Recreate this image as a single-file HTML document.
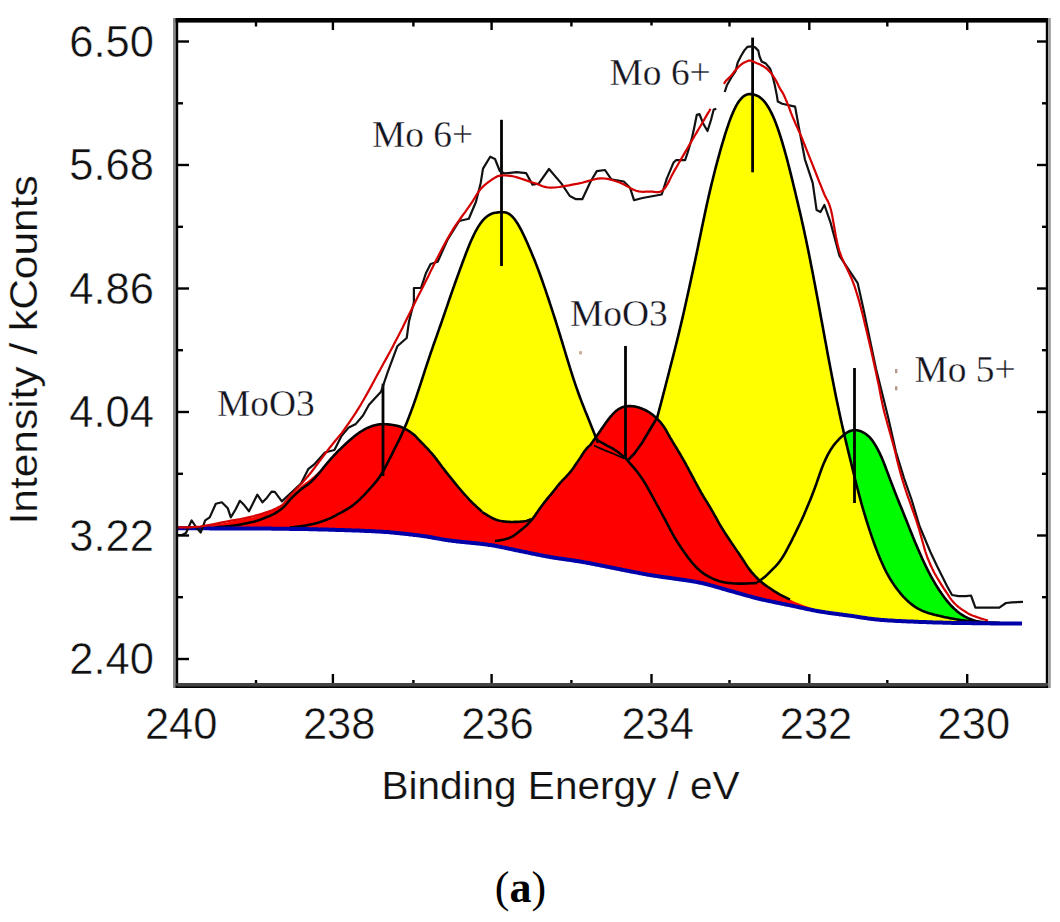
<!DOCTYPE html>
<html><head><meta charset="utf-8"><style>
html,body{margin:0;padding:0;background:#fff;width:1060px;height:922px;overflow:hidden;position:relative}
</style></head><body>
<svg width="1060" height="922" viewBox="0 0 1060 922" style="position:absolute;left:0;top:0">
<rect width="1060" height="922" fill="#fff"/>
<path d="M700,582.5 701,582.6 702,582.8 703,583 704,583.2 705,583.4 706,583.6 707,583.9 708,584.1 709,584.3 710,584.5 711,584.7 712,585 713,585.2 714,585.4 715,585.6 716,585.8 717,586.1 718,586.3 719,586.5 720,586.7 721,586.9 722,587 723,587.2 724,587.4 725,587.5 726,587.7 727,587.8 728,587.9 729,588 730,588.1 731,588.2 732,588.3 733,588.3 734,588.4 735,588.4 736,588.4 737,588.4 738,588.4 739,588.3 740,588.3 741,588.2 742,588 743,587.8 744,587.6 745,587.4 746,587 747,586.6 748,586.2 749,585.7 750,585.3 751,585 752,584.6 753,584.2 754,583.8 755,583.4 756,582.9 757,582.3 758,581.8 759,581.2 760,580.5 761,579.8 762,579.1 763,578.3 764,577.5 765,576.7 766,575.8 767,574.9 768,573.9 769,572.9 770,571.9 771,570.8 772,569.8 773,568.8 774,567.9 775,566.9 776,565.8 777,564.7 778,563.6 779,562.3 780,561 781,559.6 782,558.1 783,556.5 784,554.8 785,553.1 786,551.3 787,549.5 788,547.6 789,545.7 790,543.8 791,541.8 792,539.9 793,537.8 794,535.8 795,533.8 796,531.7 797,529.7 798,527.7 799,525.6 800,523.5 801,521.4 802,519.2 803,516.9 804,514.7 805,512.3 806,510 807,507.6 808,505.2 809,502.8 810,500.4 811,497.9 812,495.4 813,492.8 814,490.2 815,487.5 816,484.8 817,481.9 818,479 819,476.1 820,473.3 821,470.5 822,467.8 823,465.2 824,462.8 825,460.6 826,458.4 827,456.4 828,454.4 829,452.6 830,450.9 831,449.2 832,447.7 833,446.3 834,444.9 835,443.7 836,442.5 837,441.4 838,440.3 839,439.2 840,438.2 841,437.3 842,436.4 843,435.5 844,434.7 845,433.9 846,433.2 847,432.6 848,432 849,431.5 850,431 851,430.7 852,430.4 853,430.2 854,430.1 855,430.1 856,430.2 857,430.3 858,430.5 859,430.7 860,431 861,431.4 862,431.8 863,432.3 864,432.9 865,433.5 866,434.1 867,434.9 868,435.7 869,436.6 870,437.7 871,438.9 872,440.1 873,441.5 874,443 875,444.6 876,446.2 877,448 878,449.9 879,451.8 880,453.9 881,456.1 882,458.3 883,460.7 884,463.2 885,465.8 886,468.5 887,471.1 888,473.8 889,476.5 890,479.1 891,481.7 892,484.3 893,486.9 894,489.5 895,492.1 896,494.7 897,497.2 898,499.7 899,502.2 900,504.7 901,507.1 902,509.6 903,512.1 904,514.5 905,517 906,519.5 907,522 908,524.5 909,527.1 910,529.6 911,532.1 912,534.6 913,537 914,539.5 915,541.9 916,544.3 917,546.6 918,549 919,551.3 920,553.6 921,555.8 922,558.1 923,560.2 924,562.4 925,564.5 926,566.6 927,568.6 928,570.6 929,572.5 930,574.5 931,576.3 932,578.1 933,579.9 934,581.6 935,583.3 936,585 937,586.6 938,588.2 939,589.8 940,591.3 941,592.8 942,594.2 943,595.6 944,597 945,598.3 946,599.6 947,600.8 948,602.1 949,603.2 950,604.4 951,605.5 952,606.5 953,607.5 954,608.5 955,609.4 956,610.3 957,611.2 958,612 959,612.7 960,613.5 961,614.2 962,614.8 963,615.4 964,616 965,616.6 966,617.1 967,617.6 968,618.1 969,618.5 970,618.9 971,619.3 972,619.7 973,620 974,620.4 975,620.7 976,621 977,621.2 978,621.5 979,621.7 980,622 981,622.2 982,622.4 983,622.6 984,622.8 985,622.9 986,623 987,622.8 988,622.7 989,622.7 990,622.6 991,622.6 992,622.5 993,622.5 994,622.5 995,622.6 996,622.6 997,622.7 998,622.7 999,622.8 1000,622.8 L1000,623.4 999,623.4 998,623.4 997,623.4 996,623.4 995,623.4 994,623.4 993,623.4 992,623.4 991,623.4 990,623.3 989,623.3 988,623.3 987,623.3 986,623.3 985,623.3 984,623.3 983,623.3 982,623.3 981,623.3 980,623.2 979,623.2 978,623.2 977,623.2 976,623.2 975,623.2 974,623.2 973,623.2 972,623.2 971,623.1 970,623.1 969,623.1 968,623.1 967,623.1 966,623.1 965,623.1 964,623.1 963,623 962,623 961,623 960,623 959,623 958,623 957,623 956,622.9 955,622.9 954,622.9 953,622.9 952,622.9 951,622.8 950,622.8 949,622.8 948,622.8 947,622.8 946,622.7 945,622.7 944,622.7 943,622.7 942,622.6 941,622.6 940,622.6 939,622.5 938,622.5 937,622.5 936,622.5 935,622.4 934,622.4 933,622.4 932,622.3 931,622.3 930,622.3 929,622.2 928,622.2 927,622.2 926,622.1 925,622.1 924,622 923,622 922,622 921,621.9 920,621.9 919,621.9 918,621.8 917,621.8 916,621.7 915,621.7 914,621.7 913,621.6 912,621.6 911,621.5 910,621.5 909,621.5 908,621.4 907,621.4 906,621.3 905,621.3 904,621.2 903,621.2 902,621.2 901,621.1 900,621.1 899,621 898,621 897,620.9 896,620.9 895,620.8 894,620.7 893,620.7 892,620.6 891,620.6 890,620.5 889,620.4 888,620.4 887,620.3 886,620.2 885,620.2 884,620.1 883,620 882,620 881,619.9 880,619.8 879,619.7 878,619.6 877,619.5 876,619.4 875,619.3 874,619.2 873,619.1 872,619 871,618.8 870,618.7 869,618.6 868,618.4 867,618.3 866,618.1 865,618 864,617.8 863,617.7 862,617.5 861,617.4 860,617.2 859,617 858,616.9 857,616.7 856,616.6 855,616.4 854,616.3 853,616.1 852,616 851,615.8 850,615.7 849,615.6 848,615.4 847,615.3 846,615.2 845,615 844,614.9 843,614.8 842,614.6 841,614.5 840,614.4 839,614.2 838,614.1 837,614 836,613.8 835,613.7 834,613.6 833,613.4 832,613.3 831,613.2 830,613 829,612.9 828,612.7 827,612.6 826,612.4 825,612.3 824,612.1 823,612 822,611.8 821,611.7 820,611.5 819,611.3 818,611.2 817,611 816,610.8 815,610.6 814,610.4 813,610.2 812,610 811,609.8 810,609.6 809,609.4 808,609.2 807,609 806,608.8 805,608.6 804,608.3 803,608.1 802,607.9 801,607.7 800,607.5 799,607.2 798,607 797,606.8 796,606.6 795,606.4 794,606.2 793,605.9 792,605.7 791,605.5 790,605.3 789,605.1 788,604.9 787,604.7 786,604.5 785,604.3 784,604.1 783,603.9 782,603.7 781,603.5 780,603.3 779,603.1 778,602.9 777,602.7 776,602.5 775,602.3 774,602.1 773,601.9 772,601.6 771,601.4 770,601.2 769,601 768,600.8 767,600.6 766,600.4 765,600.1 764,599.9 763,599.7 762,599.5 761,599.2 760,599 759,598.8 758,598.5 757,598.3 756,598 755,597.8 754,597.5 753,597.2 752,597 751,596.7 750,596.4 749,596.1 748,595.9 747,595.6 746,595.3 745,595 744,594.7 743,594.5 742,594.2 741,593.9 740,593.6 739,593.3 738,593 737,592.8 736,592.5 735,592.2 734,591.9 733,591.6 732,591.3 731,591.1 730,590.8 729,590.5 728,590.2 727,590 726,589.7 725,589.4 724,589.1 723,588.8 722,588.5 721,588.2 720,587.9 719,587.6 718,587.4 717,587.1 716,586.8 715,586.5 714,586.2 713,585.9 712,585.6 711,585.4 710,585.1 709,584.8 708,584.6 707,584.3 706,584.1 705,583.8 704,583.6 703,583.3 702,583.1 701,582.9 700,582.7 Z" fill="#00fc00"/>
<path d="M300,526.3 301,526.2 302,526 303,525.9 304,525.7 305,525.6 306,525.4 307,525.2 308,525 309,524.8 310,524.6 311,524.4 312,524.2 313,524 314,523.8 315,523.5 316,523.3 317,523 318,522.7 319,522.4 320,522 321,521.7 322,521.4 323,521 324,520.7 325,520.3 326,519.9 327,519.6 328,519.1 329,518.7 330,518.3 331,517.8 332,517.3 333,516.8 334,516.3 335,515.8 336,515.3 337,514.7 338,514.2 339,513.7 340,513.1 341,512.6 342,512.1 343,511.5 344,511 345,510.4 346,509.8 347,509.2 348,508.6 349,508 350,507.3 351,506.7 352,505.9 353,505.2 354,504.4 355,503.6 356,502.8 357,501.9 358,501 359,500.1 360,499.2 361,498.2 362,497.2 363,496.2 364,495.2 365,494.1 366,493 367,491.9 368,490.8 369,489.7 370,488.6 371,487.5 372,486.4 373,485.2 374,484.1 375,482.9 376,481.7 377,480.4 378,479.1 379,477.7 380,476.2 381,474.6 382,473 383,471.3 384,469.5 385,467.7 386,465.9 387,463.9 388,462 389,460 390,458 391,456.1 392,454.1 393,452.1 394,450.1 395,448.1 396,446.1 397,444.1 398,442.1 399,440.1 400,438 401,435.9 402,433.7 403,431.5 404,429.2 405,426.8 406,424.4 407,422 408,419.5 409,416.9 410,414.3 411,411.6 412,408.9 413,406.2 414,403.4 415,400.5 416,397.6 417,394.7 418,391.7 419,388.7 420,385.6 421,382.6 422,379.5 423,376.4 424,373.3 425,370.2 426,367.2 427,364.1 428,361.1 429,358.1 430,355.1 431,352.2 432,349.3 433,346.4 434,343.5 435,340.7 436,337.9 437,335.1 438,332.2 439,329.4 440,326.5 441,323.7 442,320.8 443,317.9 444,315 445,312.1 446,309.2 447,306.3 448,303.3 449,300.4 450,297.5 451,294.6 452,291.8 453,288.9 454,286.1 455,283.3 456,280.5 457,277.7 458,274.9 459,272.2 460,269.4 461,266.7 462,264 463,261.3 464,258.6 465,256 466,253.3 467,250.8 468,248.2 469,245.7 470,243.3 471,241 472,238.7 473,236.6 474,234.5 475,232.5 476,230.6 477,228.8 478,227.1 479,225.6 480,224.1 481,222.7 482,221.4 483,220.2 484,219.1 485,218.1 486,217.3 487,216.4 488,215.7 489,215.1 490,214.5 491,214 492,213.6 493,213.3 494,213 495,212.8 496,212.7 497,212.5 498,212.4 499,212.3 500,212.3 501,212.2 502,212.2 503,212.2 504,212.3 505,212.4 506,212.6 507,212.9 508,213.4 509,213.9 510,214.6 511,215.4 512,216.3 513,217.3 514,218.5 515,219.8 516,221.2 517,222.7 518,224.3 519,226 520,227.8 521,229.7 522,231.6 523,233.7 524,235.7 525,237.9 526,240.1 527,242.3 528,244.6 529,246.9 530,249.2 531,251.6 532,253.9 533,256.4 534,258.8 535,261.3 536,263.9 537,266.4 538,269.1 539,271.8 540,274.5 541,277.2 542,280 543,282.9 544,285.8 545,288.7 546,291.6 547,294.6 548,297.5 549,300.5 550,303.6 551,306.6 552,309.7 553,312.8 554,315.9 555,319 556,322.2 557,325.3 558,328.5 559,331.8 560,335 561,338.3 562,341.5 563,344.8 564,348.1 565,351.5 566,354.8 567,358.1 568,361.4 569,364.6 570,367.9 571,371.1 572,374.2 573,377.3 574,380.4 575,383.4 576,386.3 577,389.2 578,392 579,394.8 580,397.5 581,400.1 582,402.7 583,405.3 584,407.8 585,410.4 586,412.8 587,415.3 588,417.8 589,420.3 590,422.8 591,425.2 592,427.7 593,430.2 594,432.8 595,435.3 596,437.8 597,440.3 598,442.8 599,445.3 600,447.8 601,450.3 602,452.8 603,455.3 604,457.7 605,460.4 606,464 607,467.5 608,470.7 609,473.8 610,476.7 611,479.5 612,482.1 613,484.6 614,487 615,489.3 616,491.6 617,493.7 618,495.9 619,498 620,500 621,502 622,504 623,506 624,507.9 625,509.7 626,511.6 627,513.4 628,515.2 629,516.9 630,518.6 631,520.3 632,521.9 633,523.6 634,525.1 635,526.7 636,528.2 637,529.7 638,531.2 639,532.6 640,534 641,535.4 642,536.7 643,538.1 644,539.3 645,540.6 646,541.8 647,543 648,544.2 649,545.4 650,546.5 651,547.6 652,548.6 653,549.7 654,550.7 655,551.7 656,552.6 657,553.6 658,554.5 659,555.4 660,556.3 661,557.1 662,557.9 663,558.7 664,559.5 665,560.3 666,561 667,561.8 668,562.5 669,563.2 670,563.8 671,564.5 672,565.1 673,565.8 674,566.4 675,567 676,567.5 677,568.1 678,568.7 679,569.2 680,569.7 681,570.2 682,570.7 683,571.2 684,571.7 685,572.2 686,572.7 687,573.1 688,573.6 689,574 690,574.5 691,574.9 692,575.3 693,575.7 694,576.1 695,576.5 696,576.9 697,577.3 698,577.7 699,578.1 700,578.5 701,578.9 702,579.3 703,579.7 704,580.1 705,580.4 706,580.8 707,581.2 708,581.6 709,582 710,582.4 711,582.8 712,583.2 713,583.6 714,584 715,584.4 716,584.8 717,585.1 718,585.5 719,585.9 720,586.3 L720,587.9 719,587.6 718,587.4 717,587.1 716,586.8 715,586.5 714,586.2 713,585.9 712,585.6 711,585.4 710,585.1 709,584.8 708,584.6 707,584.3 706,584.1 705,583.8 704,583.6 703,583.3 702,583.1 701,582.9 700,582.7 699,582.5 698,582.3 697,582.1 696,581.9 695,581.7 694,581.6 693,581.4 692,581.2 691,581.1 690,580.9 689,580.7 688,580.6 687,580.4 686,580.3 685,580.1 684,580 683,579.8 682,579.7 681,579.5 680,579.4 679,579.2 678,579.1 677,578.9 676,578.8 675,578.7 674,578.5 673,578.4 672,578.3 671,578.1 670,578 669,577.8 668,577.7 667,577.6 666,577.4 665,577.3 664,577.2 663,577 662,576.9 661,576.7 660,576.6 659,576.4 658,576.3 657,576.1 656,576 655,575.8 654,575.7 653,575.5 652,575.3 651,575.2 650,575 649,574.8 648,574.7 647,574.5 646,574.3 645,574.1 644,573.9 643,573.8 642,573.6 641,573.4 640,573.2 639,573 638,572.8 637,572.6 636,572.4 635,572.2 634,572.1 633,571.9 632,571.7 631,571.5 630,571.3 629,571.1 628,570.9 627,570.7 626,570.5 625,570.3 624,570.1 623,569.9 622,569.7 621,569.5 620,569.3 619,569.1 618,568.9 617,568.7 616,568.5 615,568.3 614,568.1 613,567.9 612,567.7 611,567.5 610,567.3 609,567.1 608,566.9 607,566.7 606,566.5 605,566.3 604,566.1 603,565.9 602,565.7 601,565.5 600,565.3 599,565.1 598,564.9 597,564.7 596,564.5 595,564.3 594,564.1 593,563.9 592,563.7 591,563.5 590,563.3 589,563.1 588,563 587,562.8 586,562.6 585,562.4 584,562.2 583,562 582,561.8 581,561.7 580,561.5 579,561.3 578,561.2 577,561 576,560.9 575,560.7 574,560.5 573,560.4 572,560.3 571,560.1 570,560 569,559.8 568,559.7 567,559.5 566,559.4 565,559.3 564,559.1 563,559 562,558.8 561,558.7 560,558.6 559,558.4 558,558.3 557,558.1 556,558 555,557.8 554,557.7 553,557.5 552,557.3 551,557.2 550,557 549,556.8 548,556.6 547,556.5 546,556.3 545,556.1 544,555.9 543,555.7 542,555.5 541,555.3 540,555.1 539,554.9 538,554.7 537,554.5 536,554.3 535,554.1 534,553.9 533,553.7 532,553.5 531,553.3 530,553.1 529,552.9 528,552.6 527,552.4 526,552.2 525,552 524,551.8 523,551.6 522,551.4 521,551.2 520,551 519,550.8 518,550.6 517,550.4 516,550.2 515,550 514,549.7 513,549.5 512,549.3 511,549.1 510,548.9 509,548.7 508,548.4 507,548.2 506,548 505,547.8 504,547.6 503,547.4 502,547.2 501,547 500,546.8 499,546.6 498,546.4 497,546.2 496,546 495,545.8 494,545.6 493,545.5 492,545.3 491,545.1 490,545 489,544.9 488,544.7 487,544.6 486,544.4 485,544.3 484,544.2 483,544.1 482,544 481,543.8 480,543.7 479,543.6 478,543.5 477,543.4 476,543.3 475,543.2 474,543.1 473,543 472,542.9 471,542.8 470,542.7 469,542.6 468,542.5 467,542.4 466,542.3 465,542.2 464,542.1 463,542 462,541.9 461,541.8 460,541.7 459,541.6 458,541.5 457,541.4 456,541.2 455,541.1 454,541 453,540.9 452,540.8 451,540.6 450,540.5 449,540.4 448,540.2 447,540.1 446,539.9 445,539.8 444,539.6 443,539.4 442,539.3 441,539.1 440,538.9 439,538.7 438,538.6 437,538.4 436,538.2 435,538 434,537.8 433,537.7 432,537.5 431,537.3 430,537.1 429,537 428,536.8 427,536.6 426,536.5 425,536.3 424,536.2 423,536 422,535.9 421,535.7 420,535.6 419,535.5 418,535.3 417,535.2 416,535.1 415,535 414,534.9 413,534.7 412,534.6 411,534.5 410,534.4 409,534.3 408,534.1 407,534 406,533.9 405,533.8 404,533.7 403,533.6 402,533.5 401,533.4 400,533.3 399,533.2 398,533.1 397,533 396,532.9 395,532.8 394,532.7 393,532.6 392,532.5 391,532.4 390,532.3 389,532.2 388,532.1 387,532.1 386,532 385,531.9 384,531.9 383,531.8 382,531.7 381,531.7 380,531.6 379,531.5 378,531.5 377,531.4 376,531.4 375,531.3 374,531.3 373,531.2 372,531.2 371,531.1 370,531.1 369,531 368,531 367,531 366,530.9 365,530.9 364,530.8 363,530.8 362,530.7 361,530.7 360,530.7 359,530.6 358,530.6 357,530.6 356,530.5 355,530.5 354,530.5 353,530.4 352,530.4 351,530.3 350,530.3 349,530.3 348,530.3 347,530.2 346,530.2 345,530.2 344,530.1 343,530.1 342,530.1 341,530 340,530 339,530 338,529.9 337,529.9 336,529.9 335,529.8 334,529.8 333,529.8 332,529.8 331,529.7 330,529.7 329,529.7 328,529.6 327,529.6 326,529.6 325,529.6 324,529.5 323,529.5 322,529.5 321,529.4 320,529.4 319,529.4 318,529.4 317,529.3 316,529.3 315,529.3 314,529.3 313,529.2 312,529.2 311,529.2 310,529.2 309,529.2 308,529.1 307,529.1 306,529.1 305,529.1 304,529.1 303,529 302,529 301,529 300,529 Z" fill="#ffff00"/>
<path d="M560,555.1 561,555.1 562,555 563,555 564,554.9 565,554.8 566,554.7 567,554.6 568,554.5 569,554.3 570,554.2 571,554.1 572,553.9 573,553.7 574,553.5 575,553.3 576,553.1 577,552.9 578,552.6 579,552.4 580,552.1 581,551.8 582,551.5 583,551.2 584,550.9 585,550.6 586,550.2 587,549.8 588,549.4 589,549 590,548.5 591,548 592,547.5 593,547 594,546.4 595,545.9 596,545.3 597,544.6 598,543.9 599,543.2 600,542.5 601,541.7 602,540.9 603,540.1 604,539.2 605,538.3 606,537.4 607,536.4 608,535.4 609,534.3 610,533.2 611,532.1 612,530.9 613,529.7 614,528.4 615,527.1 616,525.8 617,524.4 618,522.9 619,521.4 620,519.9 621,518.3 622,516.7 623,515 624,513.3 625,511.5 626,509.6 627,507.7 628,505.8 629,503.8 630,501.7 631,499.6 632,497.4 633,495.2 634,492.9 635,490.5 636,488.1 637,485.6 638,483.1 639,480.4 640,477.7 641,474.9 642,471.9 643,468.9 644,465.7 645,462.4 646,459 647,455.3 648,451.5 649,447.6 650,443.4 651,439.1 652,435.7 653,432.3 654,428.8 655,425.2 656,421.7 657,418 658,414.4 659,410.6 660,406.9 661,403.1 662,399.3 663,395.4 664,391.6 665,387.7 666,383.8 667,380 668,376.1 669,372.2 670,368.3 671,364.4 672,360.5 673,356.6 674,352.7 675,348.8 676,344.8 677,340.8 678,336.7 679,332.6 680,328.4 681,324.2 682,319.9 683,315.6 684,311.2 685,306.8 686,302.3 687,297.8 688,293.2 689,288.7 690,284.1 691,279.5 692,274.9 693,270.2 694,265.6 695,260.9 696,256.2 697,251.4 698,246.7 699,241.8 700,237 701,232.2 702,227.3 703,222.5 704,217.8 705,213 706,208.4 707,203.8 708,199.3 709,194.9 710,190.6 711,186.4 712,182.2 713,178.2 714,174.2 715,170.3 716,166.4 717,162.6 718,158.9 719,155.3 720,151.7 721,148.2 722,144.7 723,141.3 724,138 725,134.7 726,131.6 727,128.5 728,125.6 729,122.7 730,119.9 731,117.3 732,114.8 733,112.4 734,110.2 735,108.1 736,106.2 737,104.4 738,102.8 739,101.3 740,100 741,98.8 742,97.7 743,96.8 744,96.1 745,95.4 746,94.9 747,94.6 748,94.3 749,94.1 750,94.1 751,94.1 752,94.2 753,94.4 754,94.6 755,94.9 756,95.3 757,95.7 758,96.2 759,96.7 760,97.4 761,98.2 762,99.1 763,100 764,101.1 765,102.3 766,103.7 767,105.1 768,106.7 769,108.3 770,110.1 771,112.1 772,114.1 773,116.3 774,118.6 775,121.1 776,123.6 777,126.3 778,129.1 779,132 780,135.1 781,138.2 782,141.5 783,144.8 784,148.3 785,151.9 786,155.5 787,159.2 788,163 789,166.9 790,170.9 791,174.9 792,178.9 793,183 794,187.2 795,191.3 796,195.5 797,199.7 798,203.9 799,208.2 800,212.4 801,216.8 802,221.2 803,225.6 804,230.2 805,234.9 806,239.6 807,244.4 808,249.3 809,254.3 810,259.3 811,264.4 812,269.5 813,274.6 814,279.9 815,285.1 816,290.4 817,295.7 818,301.1 819,306.5 820,311.9 821,317.4 822,322.8 823,328.3 824,333.8 825,339.2 826,344.6 827,350.1 828,355.4 829,360.8 830,366.1 831,371.3 832,376.5 833,381.6 834,386.7 835,391.7 836,396.7 837,401.5 838,406.3 839,411.1 840,415.7 841,420.3 842,424.7 843,429.1 844,433.5 845,437.7 846,441.9 847,446.1 848,450.2 849,454.4 850,458.5 851,462.5 852,466.6 853,470.7 854,474.8 855,478.8 856,482.8 857,486.7 858,490.6 859,494.4 860,498.2 861,501.9 862,505.5 863,509 864,512.4 865,515.7 866,519 867,522.2 868,525.4 869,528.4 870,531.4 871,534.4 872,537.3 873,540.2 874,543 875,545.7 876,548.4 877,551 878,553.6 879,556.1 880,558.5 881,560.8 882,563.1 883,565.3 884,567.4 885,569.5 886,571.5 887,573.4 888,575.2 889,577 890,578.7 891,580.3 892,581.9 893,583.4 894,584.9 895,586.3 896,587.7 897,589 898,590.3 899,591.5 900,592.8 901,594.1 902,595.2 903,596.3 904,597.4 905,598.4 906,599.4 907,600.4 908,601.3 909,602.2 910,603 911,603.9 912,604.6 913,605.4 914,606.1 915,606.8 916,607.4 917,608.1 918,608.6 919,609.2 920,609.7 921,610.2 922,610.7 923,611.1 924,611.5 925,611.9 926,612.3 927,612.6 928,612.9 929,613.3 930,613.5 931,613.8 932,614.1 933,614.4 934,614.6 935,614.9 936,615.1 937,615.4 938,615.6 939,615.8 940,616.1 941,616.3 942,616.5 943,616.7 944,617 945,617.2 946,617.4 947,617.6 948,617.8 949,618 950,618.2 951,618.4 952,618.6 953,618.8 954,618.9 955,619.1 956,619.3 957,619.5 958,619.6 959,619.8 960,619.9 961,620.1 962,620.2 963,620.4 964,620.5 965,620.6 966,620.7 967,620.9 968,621 969,621.1 970,621.2 971,621.3 972,621.3 973,621.4 974,621.5 975,621.6 976,621.6 977,621.7 978,621.8 979,621.8 980,621.9 L980,623.2 979,623.2 978,623.2 977,623.2 976,623.2 975,623.2 974,623.2 973,623.2 972,623.2 971,623.1 970,623.1 969,623.1 968,623.1 967,623.1 966,623.1 965,623.1 964,623.1 963,623 962,623 961,623 960,623 959,623 958,623 957,623 956,622.9 955,622.9 954,622.9 953,622.9 952,622.9 951,622.8 950,622.8 949,622.8 948,622.8 947,622.8 946,622.7 945,622.7 944,622.7 943,622.7 942,622.6 941,622.6 940,622.6 939,622.5 938,622.5 937,622.5 936,622.5 935,622.4 934,622.4 933,622.4 932,622.3 931,622.3 930,622.3 929,622.2 928,622.2 927,622.2 926,622.1 925,622.1 924,622 923,622 922,622 921,621.9 920,621.9 919,621.9 918,621.8 917,621.8 916,621.7 915,621.7 914,621.7 913,621.6 912,621.6 911,621.5 910,621.5 909,621.5 908,621.4 907,621.4 906,621.3 905,621.3 904,621.2 903,621.2 902,621.2 901,621.1 900,621.1 899,621 898,621 897,620.9 896,620.9 895,620.8 894,620.7 893,620.7 892,620.6 891,620.6 890,620.5 889,620.4 888,620.4 887,620.3 886,620.2 885,620.2 884,620.1 883,620 882,620 881,619.9 880,619.8 879,619.7 878,619.6 877,619.5 876,619.4 875,619.3 874,619.2 873,619.1 872,619 871,618.8 870,618.7 869,618.6 868,618.4 867,618.3 866,618.1 865,618 864,617.8 863,617.7 862,617.5 861,617.4 860,617.2 859,617 858,616.9 857,616.7 856,616.6 855,616.4 854,616.3 853,616.1 852,616 851,615.8 850,615.7 849,615.6 848,615.4 847,615.3 846,615.2 845,615 844,614.9 843,614.8 842,614.6 841,614.5 840,614.4 839,614.2 838,614.1 837,614 836,613.8 835,613.7 834,613.6 833,613.4 832,613.3 831,613.2 830,613 829,612.9 828,612.7 827,612.6 826,612.4 825,612.3 824,612.1 823,612 822,611.8 821,611.7 820,611.5 819,611.3 818,611.2 817,611 816,610.8 815,610.6 814,610.4 813,610.2 812,610 811,609.8 810,609.6 809,609.4 808,609.2 807,609 806,608.8 805,608.6 804,608.3 803,608.1 802,607.9 801,607.7 800,607.5 799,607.2 798,607 797,606.8 796,606.6 795,606.4 794,606.2 793,605.9 792,605.7 791,605.5 790,605.3 789,605.1 788,604.9 787,604.7 786,604.5 785,604.3 784,604.1 783,603.9 782,603.7 781,603.5 780,603.3 779,603.1 778,602.9 777,602.7 776,602.5 775,602.3 774,602.1 773,601.9 772,601.6 771,601.4 770,601.2 769,601 768,600.8 767,600.6 766,600.4 765,600.1 764,599.9 763,599.7 762,599.5 761,599.2 760,599 759,598.8 758,598.5 757,598.3 756,598 755,597.8 754,597.5 753,597.2 752,597 751,596.7 750,596.4 749,596.1 748,595.9 747,595.6 746,595.3 745,595 744,594.7 743,594.5 742,594.2 741,593.9 740,593.6 739,593.3 738,593 737,592.8 736,592.5 735,592.2 734,591.9 733,591.6 732,591.3 731,591.1 730,590.8 729,590.5 728,590.2 727,590 726,589.7 725,589.4 724,589.1 723,588.8 722,588.5 721,588.2 720,587.9 719,587.6 718,587.4 717,587.1 716,586.8 715,586.5 714,586.2 713,585.9 712,585.6 711,585.4 710,585.1 709,584.8 708,584.6 707,584.3 706,584.1 705,583.8 704,583.6 703,583.3 702,583.1 701,582.9 700,582.7 699,582.5 698,582.3 697,582.1 696,581.9 695,581.7 694,581.6 693,581.4 692,581.2 691,581.1 690,580.9 689,580.7 688,580.6 687,580.4 686,580.3 685,580.1 684,580 683,579.8 682,579.7 681,579.5 680,579.4 679,579.2 678,579.1 677,578.9 676,578.8 675,578.7 674,578.5 673,578.4 672,578.3 671,578.1 670,578 669,577.8 668,577.7 667,577.6 666,577.4 665,577.3 664,577.2 663,577 662,576.9 661,576.7 660,576.6 659,576.4 658,576.3 657,576.1 656,576 655,575.8 654,575.7 653,575.5 652,575.3 651,575.2 650,575 649,574.8 648,574.7 647,574.5 646,574.3 645,574.1 644,573.9 643,573.8 642,573.6 641,573.4 640,573.2 639,573 638,572.8 637,572.6 636,572.4 635,572.2 634,572.1 633,571.9 632,571.7 631,571.5 630,571.3 629,571.1 628,570.9 627,570.7 626,570.5 625,570.3 624,570.1 623,569.9 622,569.7 621,569.5 620,569.3 619,569.1 618,568.9 617,568.7 616,568.5 615,568.3 614,568.1 613,567.9 612,567.7 611,567.5 610,567.3 609,567.1 608,566.9 607,566.7 606,566.5 605,566.3 604,566.1 603,565.9 602,565.7 601,565.5 600,565.3 599,565.1 598,564.9 597,564.7 596,564.5 595,564.3 594,564.1 593,563.9 592,563.7 591,563.5 590,563.3 589,563.1 588,563 587,562.8 586,562.6 585,562.4 584,562.2 583,562 582,561.8 581,561.7 580,561.5 579,561.3 578,561.2 577,561 576,560.9 575,560.7 574,560.5 573,560.4 572,560.3 571,560.1 570,560 569,559.8 568,559.7 567,559.5 566,559.4 565,559.3 564,559.1 563,559 562,558.8 561,558.7 560,558.6 Z" fill="#ffff00"/>
<path d="M178,528.2 179,528.2 180,528.2 181,528.2 182,528.2 183,528.2 184,528.2 185,528.2 186,528.1 187,528.1 188,528.1 189,528.1 190,528.1 191,528.1 192,528.1 193,528.1 194,528 195,528 196,528 197,528 198,528 199,527.9 200,527.9 201,527.9 202,527.9 203,527.8 204,527.8 205,527.8 206,527.7 207,527.7 208,527.7 209,527.6 210,527.6 211,527.5 212,527.5 213,527.4 214,527.4 215,527.3 216,527.3 217,527.2 218,527.1 219,527.1 220,527 221,526.9 222,526.9 223,526.8 224,526.7 225,526.6 226,526.5 227,526.4 228,526.3 229,526.2 230,526.1 231,525.9 232,525.8 233,525.7 234,525.5 235,525.4 236,525.2 237,525.1 238,524.9 239,524.7 240,524.6 241,524.4 242,524.2 243,524 244,523.8 245,523.6 246,523.4 247,523.2 248,522.9 249,522.7 250,522.5 251,522.3 252,522.1 253,521.9 254,521.7 255,521.4 256,521.1 257,520.8 258,520.5 259,520.1 260,519.7 261,519.4 262,519 263,518.6 264,518.2 265,517.8 266,517.4 267,517 268,516.6 269,516.2 270,515.8 271,515.3 272,514.8 273,514.4 274,513.9 275,513.3 276,512.7 277,512.1 278,511.5 279,510.8 280,510.1 281,509.3 282,508.5 283,507.6 284,506.6 285,505.6 286,504.4 287,503.3 288,502.1 289,500.9 290,499.8 291,498.7 292,497.6 293,496.6 294,495.7 295,494.7 296,493.8 297,492.9 298,492 299,491.1 300,490.2 301,489.4 302,488.6 303,487.9 304,487.2 305,486.5 306,485.8 307,485.1 308,484.4 309,483.6 310,482.8 311,481.9 312,480.9 313,479.9 314,478.9 315,477.8 316,476.7 317,475.5 318,474.4 319,473.2 320,472 321,470.7 322,469.5 323,468.2 324,467 325,465.8 326,464.5 327,463.3 328,462.1 329,461 330,459.8 331,458.7 332,457.6 333,456.5 334,455.4 335,454.3 336,453.3 337,452.2 338,451.2 339,450.2 340,449.3 341,448.3 342,447.3 343,446.4 344,445.4 345,444.5 346,443.5 347,442.6 348,441.7 349,440.8 350,440 351,439.1 352,438.2 353,437.4 354,436.6 355,435.8 356,435 357,434.2 358,433.5 359,432.8 360,432.1 361,431.5 362,430.8 363,430.3 364,429.7 365,429.2 366,428.7 367,428.2 368,427.7 369,427.3 370,426.9 371,426.5 372,426.1 373,425.8 374,425.5 375,425.2 376,425 377,424.8 378,424.6 379,424.4 380,424.3 381,424.2 382,424.2 383,424.1 384,424.1 385,424.2 386,424.2 387,424.3 388,424.4 389,424.5 390,424.6 391,424.8 392,424.9 393,425.1 394,425.3 395,425.4 396,425.6 397,425.8 398,426 399,426.3 400,426.6 401,426.9 402,427.3 403,427.8 404,428.3 405,428.8 406,429.3 407,429.9 408,430.5 409,431.1 410,431.8 411,432.5 412,433.2 413,434 414,434.8 415,435.6 416,436.7 417,437.8 418,438.9 419,439.9 420,441 421,442 422,443 423,443.9 424,445 425,446.1 426,447.1 427,448.2 428,449.2 429,450.3 430,451.5 431,452.6 432,453.7 433,454.9 434,456.1 435,457.4 436,458.6 437,459.9 438,461.3 439,462.6 440,464 441,465.3 442,466.7 443,468 444,469.3 445,470.6 446,471.9 447,473.2 448,474.4 449,475.7 450,476.9 451,478.2 452,479.4 453,480.6 454,481.9 455,483.1 456,484.3 457,485.5 458,486.8 459,488 460,489.2 461,490.3 462,491.5 463,492.7 464,493.8 465,494.9 466,496 467,497.1 468,498.2 469,499.3 470,500.3 471,501.3 472,502.3 473,503.3 474,504.3 475,505.2 476,506.2 477,507.1 478,508 479,508.9 480,509.8 481,510.7 482,511.5 483,512.3 484,513.1 485,513.9 486,514.6 487,515.3 488,515.9 489,516.6 490,517.2 491,517.8 492,518.5 493,519.2 494,519.8 495,520.6 496,521.3 497,522 498,522.8 499,523.6 500,524.3 501,525.1 502,525.9 503,526.8 504,528 505,529.2 506,530.3 507,531.4 508,532.4 509,533.4 510,534.3 511,535.1 512,536 513,536.7 514,537.4 515,538.1 516,538.8 517,539.5 518,540.1 519,540.7 520,541.3 521,541.8 522,542.4 523,542.9 524,543.5 525,544 526,544.5 527,545 528,545.5 529,546 530,546.5 531,547 532,547.5 533,547.9 534,548.4 535,548.8 536,549.2 537,549.6 538,550.1 539,550.5 540,550.9 541,551.2 542,551.6 543,552 544,552.3 545,552.7 546,553 547,553.4 548,553.7 549,554 550,554.3 551,554.6 552,554.9 553,555.2 554,555.4 555,555.7 556,556 557,556.2 558,556.4 559,556.7 560,556.9 L560,558.6 559,558.4 558,558.3 557,558.1 556,558 555,557.8 554,557.7 553,557.5 552,557.3 551,557.2 550,557 549,556.8 548,556.6 547,556.5 546,556.3 545,556.1 544,555.9 543,555.7 542,555.5 541,555.3 540,555.1 539,554.9 538,554.7 537,554.5 536,554.3 535,554.1 534,553.9 533,553.7 532,553.5 531,553.3 530,553.1 529,552.9 528,552.6 527,552.4 526,552.2 525,552 524,551.8 523,551.6 522,551.4 521,551.2 520,551 519,550.8 518,550.6 517,550.4 516,550.2 515,550 514,549.7 513,549.5 512,549.3 511,549.1 510,548.9 509,548.7 508,548.4 507,548.2 506,548 505,547.8 504,547.6 503,547.4 502,547.2 501,547 500,546.8 499,546.6 498,546.4 497,546.2 496,546 495,545.8 494,545.6 493,545.5 492,545.3 491,545.1 490,545 489,544.9 488,544.7 487,544.6 486,544.4 485,544.3 484,544.2 483,544.1 482,544 481,543.8 480,543.7 479,543.6 478,543.5 477,543.4 476,543.3 475,543.2 474,543.1 473,543 472,542.9 471,542.8 470,542.7 469,542.6 468,542.5 467,542.4 466,542.3 465,542.2 464,542.1 463,542 462,541.9 461,541.8 460,541.7 459,541.6 458,541.5 457,541.4 456,541.2 455,541.1 454,541 453,540.9 452,540.8 451,540.6 450,540.5 449,540.4 448,540.2 447,540.1 446,539.9 445,539.8 444,539.6 443,539.4 442,539.3 441,539.1 440,538.9 439,538.7 438,538.6 437,538.4 436,538.2 435,538 434,537.8 433,537.7 432,537.5 431,537.3 430,537.1 429,537 428,536.8 427,536.6 426,536.5 425,536.3 424,536.2 423,536 422,535.9 421,535.7 420,535.6 419,535.5 418,535.3 417,535.2 416,535.1 415,535 414,534.9 413,534.7 412,534.6 411,534.5 410,534.4 409,534.3 408,534.1 407,534 406,533.9 405,533.8 404,533.7 403,533.6 402,533.5 401,533.4 400,533.3 399,533.2 398,533.1 397,533 396,532.9 395,532.8 394,532.7 393,532.6 392,532.5 391,532.4 390,532.3 389,532.2 388,532.1 387,532.1 386,532 385,531.9 384,531.9 383,531.8 382,531.7 381,531.7 380,531.6 379,531.5 378,531.5 377,531.4 376,531.4 375,531.3 374,531.3 373,531.2 372,531.2 371,531.1 370,531.1 369,531 368,531 367,531 366,530.9 365,530.9 364,530.8 363,530.8 362,530.7 361,530.7 360,530.7 359,530.6 358,530.6 357,530.6 356,530.5 355,530.5 354,530.5 353,530.4 352,530.4 351,530.3 350,530.3 349,530.3 348,530.3 347,530.2 346,530.2 345,530.2 344,530.1 343,530.1 342,530.1 341,530 340,530 339,530 338,529.9 337,529.9 336,529.9 335,529.8 334,529.8 333,529.8 332,529.8 331,529.7 330,529.7 329,529.7 328,529.6 327,529.6 326,529.6 325,529.6 324,529.5 323,529.5 322,529.5 321,529.4 320,529.4 319,529.4 318,529.4 317,529.3 316,529.3 315,529.3 314,529.3 313,529.2 312,529.2 311,529.2 310,529.2 309,529.2 308,529.1 307,529.1 306,529.1 305,529.1 304,529.1 303,529 302,529 301,529 300,529 299,529 298,529 297,529 296,528.9 295,528.9 294,528.9 293,528.9 292,528.9 291,528.9 290,528.9 289,528.8 288,528.8 287,528.8 286,528.8 285,528.8 284,528.8 283,528.8 282,528.8 281,528.8 280,528.7 279,528.7 278,528.7 277,528.7 276,528.7 275,528.7 274,528.7 273,528.7 272,528.7 271,528.6 270,528.6 269,528.6 268,528.6 267,528.6 266,528.6 265,528.6 264,528.6 263,528.6 262,528.6 261,528.6 260,528.6 259,528.5 258,528.5 257,528.5 256,528.5 255,528.5 254,528.5 253,528.5 252,528.5 251,528.5 250,528.5 249,528.5 248,528.5 247,528.5 246,528.5 245,528.5 244,528.5 243,528.5 242,528.5 241,528.5 240,528.5 239,528.5 238,528.4 237,528.4 236,528.4 235,528.4 234,528.4 233,528.4 232,528.4 231,528.4 230,528.4 229,528.4 228,528.4 227,528.4 226,528.4 225,528.4 224,528.4 223,528.4 222,528.4 221,528.4 220,528.4 219,528.4 218,528.4 217,528.4 216,528.4 215,528.4 214,528.4 213,528.4 212,528.4 211,528.4 210,528.4 209,528.3 208,528.3 207,528.3 206,528.3 205,528.3 204,528.3 203,528.3 202,528.3 201,528.3 200,528.3 199,528.3 198,528.3 197,528.3 196,528.3 195,528.3 194,528.3 193,528.3 192,528.3 191,528.3 190,528.3 189,528.3 188,528.3 187,528.3 186,528.3 185,528.3 184,528.3 183,528.3 182,528.3 181,528.3 180,528.3 179,528.3 178,528.3 Z" fill="#ff0000"/>
<path d="M205,526.6 206,526.4 207,526.2 208,526 209,525.8 210,525.6 211,525.4 212,525.2 213,525.1 214,524.9 215,524.7 216,524.5 217,524.3 218,524.1 219,523.9 220,523.7 221,523.6 222,523.4 223,523.2 224,523 225,522.8 226,522.6 227,522.4 228,522.2 229,522 230,521.8 231,521.6 232,521.4 233,521.2 234,521 235,520.8 236,520.6 237,520.4 238,520.2 239,520 240,519.8 241,519.6 242,519.4 243,519.2 244,519 245,518.8 246,518.6 247,518.4 248,518.2 249,518 250,517.8 251,517.6 252,517.4 253,517.2 254,517 255,516.6 256,516.3 257,515.9 258,515.6 259,515.2 260,514.8 261,514.5 262,514.1 263,513.7 264,513.4 265,513 266,512.7 267,512.3 268,511.9 269,511.6 270,511.2 271,510.8 272,510.5 273,510.1 274,509.8 275,509.4 276,509 277,508.7 278,508.3 279,507.9 280,507.2 281,506.1 282,505.1 283,504.1 284,503 285,502 286,501 287,499.9 288,498.9 289,497.8 290,496.8 291,495.8 292,494.8 293,493.8 294,492.8 295,491.8 296,490.9 297,489.9 298,489 299,488.1 300,487.2 301,486.3 302,485.4 303,484.6 304,483.8 305,483.1 306,482.3 307,481.6 308,480.9 309,480.1 310,479.3 311,478.4 312,477.6 313,476.7 314,475.9 315,475 316,474.1 317,473.2 318,472.3 319,471.4 320,470.5 321,469.5 322,468.6 323,467.6 324,466.7 325,465.8 326,464.5 327,463.3 328,462.1 329,461 330,459.8 L330,529.7 329,529.7 328,529.6 327,529.6 326,529.6 325,529.6 324,529.5 323,529.5 322,529.5 321,529.4 320,529.4 319,529.4 318,529.4 317,529.3 316,529.3 315,529.3 314,529.3 313,529.2 312,529.2 311,529.2 310,529.2 309,529.2 308,529.1 307,529.1 306,529.1 305,529.1 304,529.1 303,529 302,529 301,529 300,529 299,529 298,529 297,529 296,528.9 295,528.9 294,528.9 293,528.9 292,528.9 291,528.9 290,528.9 289,528.8 288,528.8 287,528.8 286,528.8 285,528.8 284,528.8 283,528.8 282,528.8 281,528.8 280,528.7 279,528.7 278,528.7 277,528.7 276,528.7 275,528.7 274,528.7 273,528.7 272,528.7 271,528.6 270,528.6 269,528.6 268,528.6 267,528.6 266,528.6 265,528.6 264,528.6 263,528.6 262,528.6 261,528.6 260,528.6 259,528.5 258,528.5 257,528.5 256,528.5 255,528.5 254,528.5 253,528.5 252,528.5 251,528.5 250,528.5 249,528.5 248,528.5 247,528.5 246,528.5 245,528.5 244,528.5 243,528.5 242,528.5 241,528.5 240,528.5 239,528.5 238,528.4 237,528.4 236,528.4 235,528.4 234,528.4 233,528.4 232,528.4 231,528.4 230,528.4 229,528.4 228,528.4 227,528.4 226,528.4 225,528.4 224,528.4 223,528.4 222,528.4 221,528.4 220,528.4 219,528.4 218,528.4 217,528.4 216,528.4 215,528.4 214,528.4 213,528.4 212,528.4 211,528.4 210,528.4 209,528.3 208,528.3 207,528.3 206,528.3 205,528.3 Z" fill="#ff0000"/>
<path d="M440,538.4 441,538.6 442,538.7 443,538.8 444,539 445,539.1 446,539.2 447,539.3 448,539.4 449,539.5 450,539.6 451,539.7 452,539.8 453,539.8 454,539.9 455,539.9 456,540 457,540 458,540.1 459,540.1 460,540.1 461,540.1 462,540.2 463,540.2 464,540.2 465,540.2 466,540.2 467,540.1 468,540.1 469,540.1 470,540.1 471,540 472,540 473,540 474,539.9 475,539.9 476,539.9 477,539.8 478,539.8 479,539.9 480,539.9 481,540 482,540.1 483,540.3 484,540.5 485,540.8 486,541.1 487,541.5 488,541.9 489,541.9 490,541.7 491,541.6 492,541.5 493,541.3 494,541.2 495,541 496,540.9 497,540.7 498,540.6 499,540.5 500,540.3 501,540.1 502,540 503,539.8 504,539.6 505,539.3 506,539.1 507,538.8 508,538.5 509,538.1 510,537.7 511,537.2 512,536.7 513,536.1 514,535.5 515,534.8 516,534 517,533.3 518,532.5 519,531.7 520,530.9 521,530.1 522,529.3 523,528.5 524,527.6 525,526.8 526,525.9 527,525 528,524 529,522.9 530,521.9 531,520.7 532,519.5 533,518.2 534,516.9 535,515.5 536,514 537,512.6 538,511.1 539,509.7 540,508.3 541,506.9 542,505.5 543,504.2 544,502.9 545,501.6 546,500.4 547,499.1 548,497.9 549,496.7 550,495.5 551,494.3 552,493.1 553,491.8 554,490.6 555,489.3 556,488.1 557,486.8 558,485.5 559,484.3 560,483.1 561,482 562,480.9 563,479.8 564,478.8 565,477.8 566,476.8 567,475.7 568,474.7 569,473.5 570,472.3 571,471.1 572,469.8 573,468.4 574,467 575,465.5 576,464 577,462.6 578,461.1 579,459.6 580,458.1 581,456.6 582,455 583,453.4 584,452 585,450.6 586,449.4 587,448.2 588,447.2 589,446.2 590,445.4 591,444.1 592,442.7 593,441.3 594,439.8 595,438.4 596,437 597,435.6 598,434.1 599,432.7 600,431.2 601,429.8 602,428.3 603,426.9 604,425.4 605,424 606,422.6 607,421.2 608,419.9 609,418.6 610,417.3 611,416.1 612,415 613,413.9 614,412.9 615,411.9 616,411 617,410.2 618,409.5 619,408.8 620,408.3 621,407.8 622,407.3 623,407 624,406.7 625,406.5 626,406.3 627,406.2 628,406.1 629,406.1 630,406.1 631,406.1 632,406.2 633,406.3 634,406.4 635,406.6 636,406.8 637,407.1 638,407.3 639,407.6 640,407.9 641,408.3 642,408.6 643,409.1 644,409.5 645,410 646,410.5 647,411 648,411.6 649,412.2 650,412.9 651,413.6 652,414.3 653,415.1 654,415.9 655,416.7 656,417.6 657,418.6 658,419.6 659,420.6 660,421.7 661,422.9 662,424.2 663,425.5 664,427 665,428.5 666,430.2 667,432 668,433.8 669,435.5 670,437.3 671,439 672,440.7 673,442.4 674,444 675,445.7 676,447.3 677,448.9 678,450.6 679,452.3 680,453.9 681,455.7 682,457.4 683,459.1 684,460.9 685,462.7 686,464.5 687,466.4 688,468.2 689,470.1 690,472 691,473.8 692,475.7 693,477.5 694,479.4 695,481.3 696,483.1 697,485 698,486.8 699,488.7 700,490.5 701,492.3 702,494 703,495.7 704,497.4 705,499 706,500.6 707,502.2 708,503.8 709,505.5 710,507.1 711,508.8 712,510.6 713,512.4 714,514.2 715,515.9 716,517.7 717,519.5 718,521.3 719,523.1 720,524.8 721,526.5 722,528.2 723,529.8 724,531.4 725,533 726,534.5 727,536 728,537.5 729,539 730,540.5 731,542 732,543.5 733,544.9 734,546.4 735,547.9 736,549.4 737,550.9 738,552.3 739,553.8 740,555.3 741,556.8 742,558.3 743,559.8 744,561.3 745,562.9 746,564.4 747,566 748,567.4 749,568.8 750,570.1 751,571.4 752,572.6 753,573.7 754,574.9 755,575.9 756,577 757,578 758,579 759,579.9 760,580.9 761,581.8 762,582.6 763,583.4 764,584.1 765,584.9 766,585.6 767,586.3 768,587 769,587.6 770,588.3 771,589 772,589.7 773,590.3 774,591 775,591.6 776,592.2 777,592.8 778,593.4 779,594 780,594.6 781,595.1 782,595.7 783,596.2 784,596.7 785,597.2 786,597.7 787,598.2 788,598.7 789,599.2 790,599.7 791,600.1 792,600.6 793,601 794,601.4 795,601.9 796,602.3 797,602.7 798,603.1 799,603.5 800,603.9 801,604.3 802,604.7 803,605.1 804,605.4 805,605.8 806,606.1 807,606.5 808,606.8 809,607.1 810,607.5 811,607.8 812,608.1 813,608.4 814,608.7 815,608.9 816,609.2 817,609.5 818,609.7 819,610 820,610.2 821,610.5 822,610.7 823,610.9 824,611.1 825,611.3 826,611.5 827,611.7 828,611.9 829,612.1 830,612.3 L830,613 829,612.9 828,612.7 827,612.6 826,612.4 825,612.3 824,612.1 823,612 822,611.8 821,611.7 820,611.5 819,611.3 818,611.2 817,611 816,610.8 815,610.6 814,610.4 813,610.2 812,610 811,609.8 810,609.6 809,609.4 808,609.2 807,609 806,608.8 805,608.6 804,608.3 803,608.1 802,607.9 801,607.7 800,607.5 799,607.2 798,607 797,606.8 796,606.6 795,606.4 794,606.2 793,605.9 792,605.7 791,605.5 790,605.3 789,605.1 788,604.9 787,604.7 786,604.5 785,604.3 784,604.1 783,603.9 782,603.7 781,603.5 780,603.3 779,603.1 778,602.9 777,602.7 776,602.5 775,602.3 774,602.1 773,601.9 772,601.6 771,601.4 770,601.2 769,601 768,600.8 767,600.6 766,600.4 765,600.1 764,599.9 763,599.7 762,599.5 761,599.2 760,599 759,598.8 758,598.5 757,598.3 756,598 755,597.8 754,597.5 753,597.2 752,597 751,596.7 750,596.4 749,596.1 748,595.9 747,595.6 746,595.3 745,595 744,594.7 743,594.5 742,594.2 741,593.9 740,593.6 739,593.3 738,593 737,592.8 736,592.5 735,592.2 734,591.9 733,591.6 732,591.3 731,591.1 730,590.8 729,590.5 728,590.2 727,590 726,589.7 725,589.4 724,589.1 723,588.8 722,588.5 721,588.2 720,587.9 719,587.6 718,587.4 717,587.1 716,586.8 715,586.5 714,586.2 713,585.9 712,585.6 711,585.4 710,585.1 709,584.8 708,584.6 707,584.3 706,584.1 705,583.8 704,583.6 703,583.3 702,583.1 701,582.9 700,582.7 699,582.5 698,582.3 697,582.1 696,581.9 695,581.7 694,581.6 693,581.4 692,581.2 691,581.1 690,580.9 689,580.7 688,580.6 687,580.4 686,580.3 685,580.1 684,580 683,579.8 682,579.7 681,579.5 680,579.4 679,579.2 678,579.1 677,578.9 676,578.8 675,578.7 674,578.5 673,578.4 672,578.3 671,578.1 670,578 669,577.8 668,577.7 667,577.6 666,577.4 665,577.3 664,577.2 663,577 662,576.9 661,576.7 660,576.6 659,576.4 658,576.3 657,576.1 656,576 655,575.8 654,575.7 653,575.5 652,575.3 651,575.2 650,575 649,574.8 648,574.7 647,574.5 646,574.3 645,574.1 644,573.9 643,573.8 642,573.6 641,573.4 640,573.2 639,573 638,572.8 637,572.6 636,572.4 635,572.2 634,572.1 633,571.9 632,571.7 631,571.5 630,571.3 629,571.1 628,570.9 627,570.7 626,570.5 625,570.3 624,570.1 623,569.9 622,569.7 621,569.5 620,569.3 619,569.1 618,568.9 617,568.7 616,568.5 615,568.3 614,568.1 613,567.9 612,567.7 611,567.5 610,567.3 609,567.1 608,566.9 607,566.7 606,566.5 605,566.3 604,566.1 603,565.9 602,565.7 601,565.5 600,565.3 599,565.1 598,564.9 597,564.7 596,564.5 595,564.3 594,564.1 593,563.9 592,563.7 591,563.5 590,563.3 589,563.1 588,563 587,562.8 586,562.6 585,562.4 584,562.2 583,562 582,561.8 581,561.7 580,561.5 579,561.3 578,561.2 577,561 576,560.9 575,560.7 574,560.5 573,560.4 572,560.3 571,560.1 570,560 569,559.8 568,559.7 567,559.5 566,559.4 565,559.3 564,559.1 563,559 562,558.8 561,558.7 560,558.6 559,558.4 558,558.3 557,558.1 556,558 555,557.8 554,557.7 553,557.5 552,557.3 551,557.2 550,557 549,556.8 548,556.6 547,556.5 546,556.3 545,556.1 544,555.9 543,555.7 542,555.5 541,555.3 540,555.1 539,554.9 538,554.7 537,554.5 536,554.3 535,554.1 534,553.9 533,553.7 532,553.5 531,553.3 530,553.1 529,552.9 528,552.6 527,552.4 526,552.2 525,552 524,551.8 523,551.6 522,551.4 521,551.2 520,551 519,550.8 518,550.6 517,550.4 516,550.2 515,550 514,549.7 513,549.5 512,549.3 511,549.1 510,548.9 509,548.7 508,548.4 507,548.2 506,548 505,547.8 504,547.6 503,547.4 502,547.2 501,547 500,546.8 499,546.6 498,546.4 497,546.2 496,546 495,545.8 494,545.6 493,545.5 492,545.3 491,545.1 490,545 489,544.9 488,544.7 487,544.6 486,544.4 485,544.3 484,544.2 483,544.1 482,544 481,543.8 480,543.7 479,543.6 478,543.5 477,543.4 476,543.3 475,543.2 474,543.1 473,543 472,542.9 471,542.8 470,542.7 469,542.6 468,542.5 467,542.4 466,542.3 465,542.2 464,542.1 463,542 462,541.9 461,541.8 460,541.7 459,541.6 458,541.5 457,541.4 456,541.2 455,541.1 454,541 453,540.9 452,540.8 451,540.6 450,540.5 449,540.4 448,540.2 447,540.1 446,539.9 445,539.8 444,539.6 443,539.4 442,539.3 441,539.1 440,538.9 Z" fill="#ff0000"/>
<path d="M470,503.5 471,504.2 472,504.9 473,505.6 474,506.3 475,507 476,507.8 477,508.5 478,509.2 479,509.9 480,510.6 481,511.3 482,512 483,512.6 484,513.1 485,513.7 486,514.2 487,514.8 488,515.3 489,515.9 490,516.4 491,517 492,517.6 493,518.1 494,518.7 495,519.2 496,519.6 497,519.8 498,520 499,520.2 500,520.4 501,520.6 502,520.8 503,520.9 504,521.1 505,521.3 506,521.5 507,521.7 508,521.8 509,521.8 510,521.8 511,521.8 512,521.8 513,521.8 514,521.8 515,521.8 516,521.8 517,521.8 518,521.8 519,521.7 520,521.6 521,521.5 522,521.4 523,521.3 524,521.2 525,521.1 526,521 527,520.6 528,520.2 529,519.8 530,519.4 531,519 532,517.8 533,516.6 534,515.4 535,514.2 536,513 L536,554.3 535,554.1 534,553.9 533,553.7 532,553.5 531,553.3 530,553.1 529,552.9 528,552.6 527,552.4 526,552.2 525,552 524,551.8 523,551.6 522,551.4 521,551.2 520,551 519,550.8 518,550.6 517,550.4 516,550.2 515,550 514,549.7 513,549.5 512,549.3 511,549.1 510,548.9 509,548.7 508,548.4 507,548.2 506,548 505,547.8 504,547.6 503,547.4 502,547.2 501,547 500,546.8 499,546.6 498,546.4 497,546.2 496,546 495,545.8 494,545.6 493,545.5 492,545.3 491,545.1 490,545 489,544.9 488,544.7 487,544.6 486,544.4 485,544.3 484,544.2 483,544.1 482,544 481,543.8 480,543.7 479,543.6 478,543.5 477,543.4 476,543.3 475,543.2 474,543.1 473,543 472,542.9 471,542.8 470,542.7 Z" fill="#ff0000"/>
<g fill="none" stroke="#000" stroke-width="2.6" stroke-linejoin="round"><path d="M215,527.3 216,527.3 217,527.2 218,527.1 219,527.1 220,527 221,526.9 222,526.9 223,526.8 224,526.7 225,526.6 226,526.5 227,526.4 228,526.3 229,526.2 230,526.1 231,525.9 232,525.8 233,525.7 234,525.5 235,525.4 236,525.2 237,525.1 238,524.9 239,524.7 240,524.6 241,524.4 242,524.2 243,524 244,523.8 245,523.6 246,523.4 247,523.2 248,522.9 249,522.7 250,522.5 251,522.3 252,522.1 253,521.9 254,521.7 255,521.4 256,521.1 257,520.8 258,520.5 259,520.1 260,519.7 261,519.4 262,519 263,518.6 264,518.2 265,517.8 266,517.4 267,517 268,516.6 269,516.2 270,515.8 271,515.3 272,514.8 273,514.4 274,513.9 275,513.3 276,512.7 277,512.1 278,511.5 279,510.8 280,510.1 281,509.3 282,508.5 283,507.6 284,506.6 285,505.6 286,504.4 287,503.3 288,502.1 289,500.9 290,499.8 291,498.7 292,497.6 293,496.6 294,495.7 295,494.7 296,493.8 297,492.9 298,492 299,491.1 300,490.2 301,489.4 302,488.6 303,487.9 304,487.2 305,486.5 306,485.8 307,485.1 308,484.4 309,483.6 310,482.8 311,481.9 312,480.9 313,479.9 314,478.9 315,477.8 316,476.7 317,475.5 318,474.4 319,473.2 320,472 321,470.7 322,469.5 323,468.2 324,467 325,465.8 326,464.5 327,463.3 328,462.1 329,461 330,459.8 331,458.7 332,457.6 333,456.5 334,455.4 335,454.3 336,453.3 337,452.2 338,451.2 339,450.2 340,449.3 341,448.3 342,447.3 343,446.4 344,445.4 345,444.5 346,443.5 347,442.6 348,441.7 349,440.8 350,440 351,439.1 352,438.2 353,437.4 354,436.6 355,435.8 356,435 357,434.2 358,433.5 359,432.8 360,432.1 361,431.5 362,430.8 363,430.3 364,429.7 365,429.2 366,428.7 367,428.2 368,427.7 369,427.3 370,426.9 371,426.5 372,426.1 373,425.8 374,425.5 375,425.2 376,425 377,424.8 378,424.6 379,424.4 380,424.3 381,424.2 382,424.2 383,424.1 384,424.1 385,424.2 386,424.2 387,424.3 388,424.4 389,424.5 390,424.6 391,424.8 392,424.9 393,425.1 394,425.3 395,425.4 396,425.6 397,425.8 398,426 399,426.3 400,426.6 401,426.9 402,427.3 403,427.8 404,428.3 405,428.8 406,429.3 407,429.9 408,430.5 409,431.1 410,431.8 411,432.5 412,433.2 413,434 414,434.8 415,435.6 416,436.7 417,437.8 418,438.9 419,439.9 420,441 421,442 422,443 423,443.9 424,445 425,446.1 426,447.1 427,448.2 428,449.2 429,450.3 430,451.5 431,452.6 432,453.7 433,454.9 434,456.1 435,457.4 436,458.6 437,459.9 438,461.3 439,462.6 440,464 441,465.3 442,466.7 443,468 444,469.3 445,470.6 446,471.9 447,473.2 448,474.4 449,475.7 450,476.9 451,478.2 452,479.4 453,480.6 454,481.9 455,483.1 456,484.3 457,485.5 458,486.8 459,488 460,489.2 461,490.3 462,491.5 463,492.7 464,493.8 465,494.9 466,496 467,497.1 468,498.2 469,499.3 470,500.3 471,501.3 472,502.3 473,503.3 474,504.3 475,505.2 476,506.2 477,507.1 478,508 479,508.9 480,509.8 481,510.7 482,511.5"/><path d="M482,512 483.5,512.9 485.6,514.1 488,515.6 490.6,517.1 493.2,518.5 495.5,519.5 497.6,520.2 499.6,520.7 501.6,521.1 503.6,521.4 505.5,521.6 507.4,521.8 509.3,521.9 511.1,522 512.9,522 514.7,521.9 516.4,521.9 518,521.8 519.5,521.7 521,521.6 522.4,521.5 523.7,521.4 524.9,521.2 526,521 527.1,520.7 528.1,520.3 529,520 529.8,519.6 530.5,519.2 531,519"/><path d="M290,527.5 291,527.4 292,527.3 293,527.2 294,527.1 295,526.9 296,526.8 297,526.7 298,526.6 299,526.4 300,526.3 301,526.2 302,526 303,525.9 304,525.7 305,525.6 306,525.4 307,525.2 308,525 309,524.8 310,524.6 311,524.4 312,524.2 313,524 314,523.8 315,523.5 316,523.3 317,523 318,522.7 319,522.4 320,522 321,521.7 322,521.4 323,521 324,520.7 325,520.3 326,519.9 327,519.6 328,519.1 329,518.7 330,518.3 331,517.8 332,517.3 333,516.8 334,516.3 335,515.8 336,515.3 337,514.7 338,514.2 339,513.7 340,513.1 341,512.6 342,512.1 343,511.5 344,511 345,510.4 346,509.8 347,509.2 348,508.6 349,508 350,507.3 351,506.7 352,505.9 353,505.2 354,504.4 355,503.6 356,502.8 357,501.9 358,501 359,500.1 360,499.2 361,498.2 362,497.2 363,496.2 364,495.2 365,494.1 366,493 367,491.9 368,490.8 369,489.7 370,488.6 371,487.5 372,486.4 373,485.2 374,484.1 375,482.9 376,481.7 377,480.4 378,479.1 379,477.7 380,476.2 381,474.6 382,473 383,471.3 384,469.5 385,467.7 386,465.9 387,463.9 388,462 389,460 390,458 391,456.1 392,454.1 393,452.1 394,450.1 395,448.1 396,446.1 397,444.1 398,442.1 399,440.1 400,438 401,435.9 402,433.7 403,431.5 404,429.2 405,426.8 406,424.4 407,422 408,419.5 409,416.9 410,414.3 411,411.6 412,408.9 413,406.2 414,403.4 415,400.5 416,397.6 417,394.7 418,391.7 419,388.7 420,385.6 421,382.6 422,379.5 423,376.4 424,373.3 425,370.2 426,367.2 427,364.1 428,361.1 429,358.1 430,355.1 431,352.2 432,349.3 433,346.4 434,343.5 435,340.7 436,337.9 437,335.1 438,332.2 439,329.4 440,326.5 441,323.7 442,320.8 443,317.9 444,315 445,312.1 446,309.2 447,306.3 448,303.3 449,300.4 450,297.5 451,294.6 452,291.8 453,288.9 454,286.1 455,283.3 456,280.5 457,277.7 458,274.9 459,272.2 460,269.4 461,266.7 462,264 463,261.3 464,258.6 465,256 466,253.3 467,250.8 468,248.2 469,245.7 470,243.3 471,241 472,238.7 473,236.6 474,234.5 475,232.5 476,230.6 477,228.8 478,227.1 479,225.6 480,224.1 481,222.7 482,221.4 483,220.2 484,219.1 485,218.1 486,217.3 487,216.4 488,215.7 489,215.1 490,214.5 491,214 492,213.6 493,213.3 494,213 495,212.8 496,212.7 497,212.5 498,212.4 499,212.3 500,212.3 501,212.2 502,212.2 503,212.2 504,212.3 505,212.4 506,212.6 507,212.9 508,213.4 509,213.9 510,214.6 511,215.4 512,216.3 513,217.3 514,218.5 515,219.8 516,221.2 517,222.7 518,224.3 519,226 520,227.8 521,229.7 522,231.6 523,233.7 524,235.7 525,237.9 526,240.1 527,242.3 528,244.6 529,246.9 530,249.2 531,251.6 532,253.9 533,256.4 534,258.8 535,261.3 536,263.9 537,266.4 538,269.1 539,271.8 540,274.5 541,277.2 542,280 543,282.9 544,285.8 545,288.7 546,291.6 547,294.6 548,297.5 549,300.5 550,303.6 551,306.6 552,309.7 553,312.8 554,315.9 555,319 556,322.2 557,325.3 558,328.5 559,331.8 560,335 561,338.3 562,341.5 563,344.8 564,348.1 565,351.5 566,354.8 567,358.1 568,361.4 569,364.6 570,367.9 571,371.1 572,374.2 573,377.3 574,380.4 575,383.4 576,386.3 577,389.2 578,392 579,394.8 580,397.5 581,400.1 582,402.7 583,405.3 584,407.8 585,410.4 586,412.8 587,415.3 588,417.8 589,420.3 590,422.8 591,425.2 592,427.7 593,430.2 594,432.8 595,435.3 596,437.8 597,440.3 598,442.8"/><path d="M495,541 496,540.9 497,540.7 498,540.6 499,540.5 500,540.3 501,540.1 502,540 503,539.8 504,539.6 505,539.3 506,539.1 507,538.8 508,538.5 509,538.1 510,537.7 511,537.2 512,536.7 513,536.1 514,535.5 515,534.8 516,534 517,533.3 518,532.5 519,531.7 520,530.9 521,530.1 522,529.3 523,528.5 524,527.6 525,526.8 526,525.9 527,525 528,524 529,522.9 530,521.9 531,520.7 532,519.5 533,518.2 534,516.9 535,515.5 536,514 537,512.6 538,511.1 539,509.7 540,508.3 541,506.9 542,505.5 543,504.2 544,502.9 545,501.6 546,500.4 547,499.1 548,497.9 549,496.7 550,495.5 551,494.3 552,493.1 553,491.8 554,490.6 555,489.3 556,488.1 557,486.8 558,485.5 559,484.3 560,483.1 561,482 562,480.9 563,479.8 564,478.8 565,477.8 566,476.8 567,475.7 568,474.7 569,473.5 570,472.3 571,471.1 572,469.8 573,468.4 574,467 575,465.5 576,464 577,462.6 578,461.1 579,459.6 580,458.1 581,456.6 582,455 583,453.4 584,452 585,450.6 586,449.4 587,448.2 588,447.2 589,446.2 590,445.4 591,444.1 592,442.7 593,441.3 594,439.8 595,438.4 596,437 597,435.6 598,434.1 599,432.7 600,431.2 601,429.8 602,428.3 603,426.9 604,425.4 605,424 606,422.6 607,421.2 608,419.9 609,418.6 610,417.3 611,416.1 612,415 613,413.9 614,412.9 615,411.9 616,411 617,410.2 618,409.5 619,408.8 620,408.3 621,407.8 622,407.3 623,407 624,406.7 625,406.5 626,406.3 627,406.2 628,406.1 629,406.1 630,406.1 631,406.1 632,406.2 633,406.3 634,406.4 635,406.6 636,406.8 637,407.1 638,407.3 639,407.6 640,407.9 641,408.3 642,408.6 643,409.1 644,409.5 645,410 646,410.5 647,411 648,411.6 649,412.2 650,412.9 651,413.6 652,414.3 653,415.1 654,415.9 655,416.7 656,417.6 657,418.6 658,419.6 659,420.6 660,421.7 661,422.9 662,424.2 663,425.5 664,427 665,428.5 666,430.2 667,432 668,433.8 669,435.5 670,437.3 671,439 672,440.7 673,442.4 674,444 675,445.7 676,447.3 677,448.9 678,450.6 679,452.3 680,453.9 681,455.7 682,457.4 683,459.1 684,460.9 685,462.7 686,464.5 687,466.4 688,468.2 689,470.1 690,472 691,473.8 692,475.7 693,477.5 694,479.4 695,481.3 696,483.1 697,485 698,486.8 699,488.7 700,490.5 701,492.3 702,494 703,495.7 704,497.4 705,499 706,500.6 707,502.2 708,503.8 709,505.5 710,507.1 711,508.8 712,510.6 713,512.4 714,514.2 715,515.9 716,517.7 717,519.5 718,521.3 719,523.1 720,524.8 721,526.5 722,528.2 723,529.8 724,531.4 725,533 726,534.5 727,536 728,537.5 729,539 730,540.5 731,542 732,543.5 733,544.9 734,546.4 735,547.9 736,549.4 737,550.9 738,552.3 739,553.8 740,555.3 741,556.8 742,558.3 743,559.8 744,561.3 745,562.9 746,564.4 747,566 748,567.4 749,568.8 750,570.1 751,571.4 752,572.6 753,573.7 754,574.9 755,575.9 756,577 757,578 758,579 759,579.9 760,580.9 761,581.8 762,582.6 763,583.4 764,584.1 765,584.9 766,585.6 767,586.3 768,587 769,587.6 770,588.3 771,589 772,589.7 773,590.3 774,591 775,591.6 776,592.2 777,592.8 778,593.4 779,594 780,594.6 781,595.1 782,595.7 783,596.2 784,596.7 785,597.2 786,597.7 787,598.2 788,598.7 789,599.2 790,599.7"/><path d="M657,418 658,414.4 659,410.6 660,406.9 661,403.1 662,399.3 663,395.4 664,391.6 665,387.7 666,383.8 667,380 668,376.1 669,372.2 670,368.3 671,364.4 672,360.5 673,356.6 674,352.7 675,348.8 676,344.8 677,340.8 678,336.7 679,332.6 680,328.4 681,324.2 682,319.9 683,315.6 684,311.2 685,306.8 686,302.3 687,297.8 688,293.2 689,288.7 690,284.1 691,279.5 692,274.9 693,270.2 694,265.6 695,260.9 696,256.2 697,251.4 698,246.7 699,241.8 700,237 701,232.2 702,227.3 703,222.5 704,217.8 705,213 706,208.4 707,203.8 708,199.3 709,194.9 710,190.6 711,186.4 712,182.2 713,178.2 714,174.2 715,170.3 716,166.4 717,162.6 718,158.9 719,155.3 720,151.7 721,148.2 722,144.7 723,141.3 724,138 725,134.7 726,131.6 727,128.5 728,125.6 729,122.7 730,119.9 731,117.3 732,114.8 733,112.4 734,110.2 735,108.1 736,106.2 737,104.4 738,102.8 739,101.3 740,100 741,98.8 742,97.7 743,96.8 744,96.1 745,95.4 746,94.9 747,94.6 748,94.3 749,94.1 750,94.1 751,94.1 752,94.2 753,94.4 754,94.6 755,94.9 756,95.3 757,95.7 758,96.2 759,96.7 760,97.4 761,98.2 762,99.1 763,100 764,101.1 765,102.3 766,103.7 767,105.1 768,106.7 769,108.3 770,110.1 771,112.1 772,114.1 773,116.3 774,118.6 775,121.1 776,123.6 777,126.3 778,129.1 779,132 780,135.1 781,138.2 782,141.5 783,144.8 784,148.3 785,151.9 786,155.5 787,159.2 788,163 789,166.9 790,170.9 791,174.9 792,178.9 793,183 794,187.2 795,191.3 796,195.5 797,199.7 798,203.9 799,208.2 800,212.4 801,216.8 802,221.2 803,225.6 804,230.2 805,234.9 806,239.6 807,244.4 808,249.3 809,254.3 810,259.3 811,264.4 812,269.5 813,274.6 814,279.9 815,285.1 816,290.4 817,295.7 818,301.1 819,306.5 820,311.9 821,317.4 822,322.8 823,328.3 824,333.8 825,339.2 826,344.6 827,350.1 828,355.4 829,360.8 830,366.1 831,371.3 832,376.5 833,381.6 834,386.7 835,391.7 836,396.7 837,401.5 838,406.3 839,411.1 840,415.7 841,420.3 842,424.7 843,429.1 844,433.5 845,437.7 846,441.9 847,446.1 848,450.2 849,454.4 850,458.5 851,462.5 852,466.6 853,470.7 854,474.8 855,478.8 856,482.8 857,486.7 858,490.6 859,494.4 860,498.2 861,501.9 862,505.5 863,509 864,512.4 865,515.7 866,519 867,522.2 868,525.4 869,528.4 870,531.4 871,534.4 872,537.3 873,540.2 874,543 875,545.7 876,548.4 877,551 878,553.6 879,556.1 880,558.5 881,560.8 882,563.1 883,565.3 884,567.4 885,569.5 886,571.5 887,573.4 888,575.2 889,577 890,578.7 891,580.3 892,581.9 893,583.4 894,584.9 895,586.3 896,587.7 897,589 898,590.3 899,591.5 900,592.8 901,594.1 902,595.2 903,596.3 904,597.4 905,598.4 906,599.4 907,600.4 908,601.3 909,602.2 910,603 911,603.9 912,604.6 913,605.4 914,606.1 915,606.8 916,607.4 917,608.1 918,608.6 919,609.2 920,609.7 921,610.2 922,610.7 923,611.1 924,611.5 925,611.9 926,612.3 927,612.6 928,612.9 929,613.3 930,613.5 931,613.8 932,614.1 933,614.4 934,614.6 935,614.9 936,615.1 937,615.4 938,615.6 939,615.8 940,616.1 941,616.3 942,616.5 943,616.7 944,617 945,617.2 946,617.4 947,617.6 948,617.8 949,618 950,618.2 951,618.4 952,618.6 953,618.8 954,618.9 955,619.1 956,619.3 957,619.5 958,619.6 959,619.8 960,619.9 961,620.1 962,620.2 963,620.4 964,620.5 965,620.6 966,620.7 967,620.9 968,621 969,621.1 970,621.2 971,621.3 972,621.3 973,621.4 974,621.5 975,621.6 976,621.6 977,621.7 978,621.8 979,621.8 980,621.9 981,621.9 982,622 983,622 984,622.2 985,622.3 986,622.4 987,622.5 988,622.6 989,622.7 990,622.8"/><path d="M757,582.3 758,581.8 759,581.2 760,580.5 761,579.8 762,579.1 763,578.3 764,577.5 765,576.7 766,575.8 767,574.9 768,573.9 769,572.9 770,571.9 771,570.8 772,569.8 773,568.8 774,567.9 775,566.9 776,565.8 777,564.7 778,563.6 779,562.3 780,561 781,559.6 782,558.1 783,556.5 784,554.8 785,553.1 786,551.3 787,549.5 788,547.6 789,545.7 790,543.8 791,541.8 792,539.9 793,537.8 794,535.8 795,533.8 796,531.7 797,529.7 798,527.7 799,525.6 800,523.5 801,521.4 802,519.2 803,516.9 804,514.7 805,512.3 806,510 807,507.6 808,505.2 809,502.8 810,500.4 811,497.9 812,495.4 813,492.8 814,490.2 815,487.5 816,484.8 817,481.9 818,479 819,476.1 820,473.3 821,470.5 822,467.8 823,465.2 824,462.8 825,460.6 826,458.4 827,456.4 828,454.4 829,452.6 830,450.9 831,449.2 832,447.7 833,446.3 834,444.9 835,443.7 836,442.5 837,441.4 838,440.3 839,439.2 840,438.2 841,437.3 842,436.4 843,435.5 844,434.7 845,433.9 846,433.2 847,432.6 848,432 849,431.5 850,431 851,430.7 852,430.4 853,430.2 854,430.1 855,430.1 856,430.2 857,430.3 858,430.5 859,430.7 860,431 861,431.4 862,431.8 863,432.3 864,432.9 865,433.5 866,434.1 867,434.9 868,435.7 869,436.6 870,437.7 871,438.9 872,440.1 873,441.5 874,443 875,444.6 876,446.2 877,448 878,449.9 879,451.8 880,453.9 881,456.1 882,458.3 883,460.7 884,463.2 885,465.8 886,468.5 887,471.1 888,473.8 889,476.5 890,479.1 891,481.7 892,484.3 893,486.9 894,489.5 895,492.1 896,494.7 897,497.2 898,499.7 899,502.2 900,504.7 901,507.1 902,509.6 903,512.1 904,514.5 905,517 906,519.5 907,522 908,524.5 909,527.1 910,529.6 911,532.1 912,534.6 913,537 914,539.5 915,541.9 916,544.3 917,546.6 918,549 919,551.3 920,553.6 921,555.8 922,558.1 923,560.2 924,562.4 925,564.5 926,566.6 927,568.6 928,570.6 929,572.5 930,574.5 931,576.3 932,578.1 933,579.9 934,581.6 935,583.3 936,585 937,586.6 938,588.2 939,589.8 940,591.3 941,592.8 942,594.2 943,595.6 944,597 945,598.3 946,599.6 947,600.8 948,602.1 949,603.2 950,604.4 951,605.5 952,606.5 953,607.5 954,608.5 955,609.4 956,610.3 957,611.2 958,612 959,612.7 960,613.5 961,614.2 962,614.8 963,615.4 964,616 965,616.6 966,617.1 967,617.6 968,618.1 969,618.5 970,618.9 971,619.3 972,619.7 973,620 974,620.4 975,620.7 976,621 977,621.2 978,621.5 979,621.7 980,622 981,622.2 982,622.4 983,622.6 984,622.8 985,622.9 986,623 987,622.8 988,622.7 989,622.7 990,622.6 991,622.6 992,622.5 993,622.5 994,622.5 995,622.6 996,622.6 997,622.7 998,622.7 999,622.8 1000,622.8"/><path d="M597,440 598,440.5 599.3,441.3 600.9,442.2 602.7,443.1 604.4,444.1 606,445 607.5,445.8 609,446.6 610.5,447.4 612,448.2 613.5,449.1 615,450 616.6,451.1 618.2,452.3 619.8,453.6 621.4,454.8 622.8,456 624,457 624.8,457.7 625.3,458 625.6,458.2 626,458.7 626.8,459.5 628,461 629.8,463.1 632,465.7 634.6,468.6 637.3,472 640.1,475.8 643,480 646,484.9 649.1,490.4 652.4,496.4 655.7,502.5 659,508.4 662,514 664.8,519.2 667.4,524.2 670,529.1 672.6,533.8 675.2,538.5 678,543 681,547.5 684.1,552.1 687.3,556.6 690.6,560.8 693.8,564.6 697,568 700.2,570.9 703.3,573.3 706.5,575.3 709.7,577.1 712.8,578.6 716,580 719.1,581.1 722.2,581.9 725.3,582.5 728.4,582.9 731.7,583.2 735,583.5 738.7,583.6 742.9,583.6 747.2,583.5 751.2,583.3 754.6,583.1 757,583"/><path d="M657.5,417 650,429.5 642,443 634,454 628,460"/><path d="M594,445.5 595.1,446 596.6,446.7 598.4,447.5 600.3,448.4 602.2,449.2 604,450 605.7,450.7 607.3,451.4 609,452 610.7,452.6 612.3,453.3 614,454 615.8,454.8 617.7,455.6 619.6,456.5 621.4,457.3 622.9,458 624,458.5" stroke-width="1.8"/></g>
<path d="M178,528.3 179,528.3 180,528.3 181,528.3 182,528.3 183,528.3 184,528.3 185,528.3 186,528.3 187,528.3 188,528.3 189,528.3 190,528.3 191,528.3 192,528.3 193,528.3 194,528.3 195,528.3 196,528.3 197,528.3 198,528.3 199,528.3 200,528.3 201,528.3 202,528.3 203,528.3 204,528.3 205,528.3 206,528.3 207,528.3 208,528.3 209,528.3 210,528.4 211,528.4 212,528.4 213,528.4 214,528.4 215,528.4 216,528.4 217,528.4 218,528.4 219,528.4 220,528.4 221,528.4 222,528.4 223,528.4 224,528.4 225,528.4 226,528.4 227,528.4 228,528.4 229,528.4 230,528.4 231,528.4 232,528.4 233,528.4 234,528.4 235,528.4 236,528.4 237,528.4 238,528.4 239,528.5 240,528.5 241,528.5 242,528.5 243,528.5 244,528.5 245,528.5 246,528.5 247,528.5 248,528.5 249,528.5 250,528.5 251,528.5 252,528.5 253,528.5 254,528.5 255,528.5 256,528.5 257,528.5 258,528.5 259,528.5 260,528.6 261,528.6 262,528.6 263,528.6 264,528.6 265,528.6 266,528.6 267,528.6 268,528.6 269,528.6 270,528.6 271,528.6 272,528.7 273,528.7 274,528.7 275,528.7 276,528.7 277,528.7 278,528.7 279,528.7 280,528.7 281,528.8 282,528.8 283,528.8 284,528.8 285,528.8 286,528.8 287,528.8 288,528.8 289,528.8 290,528.9 291,528.9 292,528.9 293,528.9 294,528.9 295,528.9 296,528.9 297,529 298,529 299,529 300,529 301,529 302,529 303,529 304,529.1 305,529.1 306,529.1 307,529.1 308,529.1 309,529.2 310,529.2 311,529.2 312,529.2 313,529.2 314,529.3 315,529.3 316,529.3 317,529.3 318,529.4 319,529.4 320,529.4 321,529.4 322,529.5 323,529.5 324,529.5 325,529.6 326,529.6 327,529.6 328,529.6 329,529.7 330,529.7 331,529.7 332,529.8 333,529.8 334,529.8 335,529.8 336,529.9 337,529.9 338,529.9 339,530 340,530 341,530 342,530.1 343,530.1 344,530.1 345,530.2 346,530.2 347,530.2 348,530.3 349,530.3 350,530.3 351,530.3 352,530.4 353,530.4 354,530.5 355,530.5 356,530.5 357,530.6 358,530.6 359,530.6 360,530.7 361,530.7 362,530.7 363,530.8 364,530.8 365,530.9 366,530.9 367,531 368,531 369,531 370,531.1 371,531.1 372,531.2 373,531.2 374,531.3 375,531.3 376,531.4 377,531.4 378,531.5 379,531.5 380,531.6 381,531.7 382,531.7 383,531.8 384,531.9 385,531.9 386,532 387,532.1 388,532.1 389,532.2 390,532.3 391,532.4 392,532.5 393,532.6 394,532.7 395,532.8 396,532.9 397,533 398,533.1 399,533.2 400,533.3 401,533.4 402,533.5 403,533.6 404,533.7 405,533.8 406,533.9 407,534 408,534.1 409,534.3 410,534.4 411,534.5 412,534.6 413,534.7 414,534.9 415,535 416,535.1 417,535.2 418,535.3 419,535.5 420,535.6 421,535.7 422,535.9 423,536 424,536.2 425,536.3 426,536.5 427,536.6 428,536.8 429,537 430,537.1 431,537.3 432,537.5 433,537.7 434,537.8 435,538 436,538.2 437,538.4 438,538.6 439,538.7 440,538.9 441,539.1 442,539.3 443,539.4 444,539.6 445,539.8 446,539.9 447,540.1 448,540.2 449,540.4 450,540.5 451,540.6 452,540.8 453,540.9 454,541 455,541.1 456,541.2 457,541.4 458,541.5 459,541.6 460,541.7 461,541.8 462,541.9 463,542 464,542.1 465,542.2 466,542.3 467,542.4 468,542.5 469,542.6 470,542.7 471,542.8 472,542.9 473,543 474,543.1 475,543.2 476,543.3 477,543.4 478,543.5 479,543.6 480,543.7 481,543.8 482,544 483,544.1 484,544.2 485,544.3 486,544.4 487,544.6 488,544.7 489,544.9 490,545 491,545.1 492,545.3 493,545.5 494,545.6 495,545.8 496,546 497,546.2 498,546.4 499,546.6 500,546.8 501,547 502,547.2 503,547.4 504,547.6 505,547.8 506,548 507,548.2 508,548.4 509,548.7 510,548.9 511,549.1 512,549.3 513,549.5 514,549.7 515,550 516,550.2 517,550.4 518,550.6 519,550.8 520,551 521,551.2 522,551.4 523,551.6 524,551.8 525,552 526,552.2 527,552.4 528,552.6 529,552.9 530,553.1 531,553.3 532,553.5 533,553.7 534,553.9 535,554.1 536,554.3 537,554.5 538,554.7 539,554.9 540,555.1 541,555.3 542,555.5 543,555.7 544,555.9 545,556.1 546,556.3 547,556.5 548,556.6 549,556.8 550,557 551,557.2 552,557.3 553,557.5 554,557.7 555,557.8 556,558 557,558.1 558,558.3 559,558.4 560,558.6 561,558.7 562,558.8 563,559 564,559.1 565,559.3 566,559.4 567,559.5 568,559.7 569,559.8 570,560 571,560.1 572,560.3 573,560.4 574,560.5 575,560.7 576,560.9 577,561 578,561.2 579,561.3 580,561.5 581,561.7 582,561.8 583,562 584,562.2 585,562.4 586,562.6 587,562.8 588,563 589,563.1 590,563.3 591,563.5 592,563.7 593,563.9 594,564.1 595,564.3 596,564.5 597,564.7 598,564.9 599,565.1 600,565.3 601,565.5 602,565.7 603,565.9 604,566.1 605,566.3 606,566.5 607,566.7 608,566.9 609,567.1 610,567.3 611,567.5 612,567.7 613,567.9 614,568.1 615,568.3 616,568.5 617,568.7 618,568.9 619,569.1 620,569.3 621,569.5 622,569.7 623,569.9 624,570.1 625,570.3 626,570.5 627,570.7 628,570.9 629,571.1 630,571.3 631,571.5 632,571.7 633,571.9 634,572.1 635,572.2 636,572.4 637,572.6 638,572.8 639,573 640,573.2 641,573.4 642,573.6 643,573.8 644,573.9 645,574.1 646,574.3 647,574.5 648,574.7 649,574.8 650,575 651,575.2 652,575.3 653,575.5 654,575.7 655,575.8 656,576 657,576.1 658,576.3 659,576.4 660,576.6 661,576.7 662,576.9 663,577 664,577.2 665,577.3 666,577.4 667,577.6 668,577.7 669,577.8 670,578 671,578.1 672,578.3 673,578.4 674,578.5 675,578.7 676,578.8 677,578.9 678,579.1 679,579.2 680,579.4 681,579.5 682,579.7 683,579.8 684,580 685,580.1 686,580.3 687,580.4 688,580.6 689,580.7 690,580.9 691,581.1 692,581.2 693,581.4 694,581.6 695,581.7 696,581.9 697,582.1 698,582.3 699,582.5 700,582.7 701,582.9 702,583.1 703,583.3 704,583.6 705,583.8 706,584.1 707,584.3 708,584.6 709,584.8 710,585.1 711,585.4 712,585.6 713,585.9 714,586.2 715,586.5 716,586.8 717,587.1 718,587.4 719,587.6 720,587.9 721,588.2 722,588.5 723,588.8 724,589.1 725,589.4 726,589.7 727,590 728,590.2 729,590.5 730,590.8 731,591.1 732,591.3 733,591.6 734,591.9 735,592.2 736,592.5 737,592.8 738,593 739,593.3 740,593.6 741,593.9 742,594.2 743,594.5 744,594.7 745,595 746,595.3 747,595.6 748,595.9 749,596.1 750,596.4 751,596.7 752,597 753,597.2 754,597.5 755,597.8 756,598 757,598.3 758,598.5 759,598.8 760,599 761,599.2 762,599.5 763,599.7 764,599.9 765,600.1 766,600.4 767,600.6 768,600.8 769,601 770,601.2 771,601.4 772,601.6 773,601.9 774,602.1 775,602.3 776,602.5 777,602.7 778,602.9 779,603.1 780,603.3 781,603.5 782,603.7 783,603.9 784,604.1 785,604.3 786,604.5 787,604.7 788,604.9 789,605.1 790,605.3 791,605.5 792,605.7 793,605.9 794,606.2 795,606.4 796,606.6 797,606.8 798,607 799,607.2 800,607.5 801,607.7 802,607.9 803,608.1 804,608.3 805,608.6 806,608.8 807,609 808,609.2 809,609.4 810,609.6 811,609.8 812,610 813,610.2 814,610.4 815,610.6 816,610.8 817,611 818,611.2 819,611.3 820,611.5 821,611.7 822,611.8 823,612 824,612.1 825,612.3 826,612.4 827,612.6 828,612.7 829,612.9 830,613 831,613.2 832,613.3 833,613.4 834,613.6 835,613.7 836,613.8 837,614 838,614.1 839,614.2 840,614.4 841,614.5 842,614.6 843,614.8 844,614.9 845,615 846,615.2 847,615.3 848,615.4 849,615.6 850,615.7 851,615.8 852,616 853,616.1 854,616.3 855,616.4 856,616.6 857,616.7 858,616.9 859,617 860,617.2 861,617.4 862,617.5 863,617.7 864,617.8 865,618 866,618.1 867,618.3 868,618.4 869,618.6 870,618.7 871,618.8 872,619 873,619.1 874,619.2 875,619.3 876,619.4 877,619.5 878,619.6 879,619.7 880,619.8 881,619.9 882,620 883,620 884,620.1 885,620.2 886,620.2 887,620.3 888,620.4 889,620.4 890,620.5 891,620.6 892,620.6 893,620.7 894,620.7 895,620.8 896,620.9 897,620.9 898,621 899,621 900,621.1 901,621.1 902,621.2 903,621.2 904,621.2 905,621.3 906,621.3 907,621.4 908,621.4 909,621.5 910,621.5 911,621.5 912,621.6 913,621.6 914,621.7 915,621.7 916,621.7 917,621.8 918,621.8 919,621.9 920,621.9 921,621.9 922,622 923,622 924,622 925,622.1 926,622.1 927,622.2 928,622.2 929,622.2 930,622.3 931,622.3 932,622.3 933,622.4 934,622.4 935,622.4 936,622.5 937,622.5 938,622.5 939,622.5 940,622.6 941,622.6 942,622.6 943,622.7 944,622.7 945,622.7 946,622.7 947,622.8 948,622.8 949,622.8 950,622.8 951,622.8 952,622.9 953,622.9 954,622.9 955,622.9 956,622.9 957,623 958,623 959,623 960,623 961,623 962,623 963,623 964,623.1 965,623.1 966,623.1 967,623.1 968,623.1 969,623.1 970,623.1 971,623.1 972,623.2 973,623.2 974,623.2 975,623.2 976,623.2 977,623.2 978,623.2 979,623.2 980,623.2 981,623.3 982,623.3 983,623.3 984,623.3 985,623.3 986,623.3 987,623.3 988,623.3 989,623.3 990,623.3 991,623.4 992,623.4 993,623.4 994,623.4 995,623.4 996,623.4 997,623.4 998,623.4 999,623.4 1000,623.4 1001,623.4 1002,623.4 1003,623.4 1004,623.4 1005,623.5 1006,623.5 1007,623.5 1008,623.5 1009,623.5 1010,623.5 1011,623.5 1012,623.5 1013,623.5 1014,623.5 1015,623.5 1016,623.5 1017,623.5 1018,623.5 1019,623.5 1020,623.5 1021,623.5 1022,623.5" fill="none" stroke="#0000a8" stroke-width="4"/>
<g stroke="#000" stroke-width="2.8"><line x1="383" y1="383.7" x2="383" y2="476"/><line x1="501.5" y1="119.8" x2="501.5" y2="266"/><line x1="625.5" y1="346" x2="625.5" y2="459"/><line x1="752.6" y1="37.6" x2="752.6" y2="172.3"/><line x1="854.5" y1="368" x2="854.5" y2="503"/></g>
<g fill="none" stroke="#111" stroke-width="2.2" stroke-linejoin="round"><path d="M176,535 182,535 186,533 191.6,520.4 196,527 200.7,532.5 205.2,520.4 209.7,517.4 215.8,503.8 221.8,502.3 227.8,508.3 230.8,517.4 235.4,509.8 239.9,500.8 244.4,505.3 249,511.3 253.5,502.3 257.3,494.7 262.5,502.3 267,497.7 271.6,491.7 274.8,491.9 281.9,501.4 301,483.5 308.2,469.2 314.2,464.4 324.9,452.5 334.4,450 341.6,435.8 348.8,427.4 355.9,423.9 363,415.5 369,404.8 381,391.8 387.6,372.3 397.3,346.3 406.7,338 409,321.4 413.9,302.3 413.9,288 421,288 425.8,273.6 430.6,264 437.7,261.7 447.3,240.2 459.2,221 468.8,218.8 475.9,202 480.7,183 483,168.6 490.2,156.7 495,159 499.8,171 504.6,173.4 516.5,172.2 526.2,173.2 532.5,184.6 538.7,183.6 549,169 561.5,183.6 569.8,196 576,199.2 582.3,199.2 590.6,181.5 596.8,171.1 605,170 611.3,179.4 623.8,181.5 630,187.7 634,200.2 642.5,198 661.7,194.5 666.9,178.4 673.4,162.8 676,160.2 685.1,160.2 687.7,152.4 691.6,139.4 694.2,127.7 696.8,114.7 699.4,114 703.3,123.8 707.5,131 711,120 713.7,109.5 716.3,108.9"/><path d="M724.7,92 726.9,85.3 731.2,77.7 735.6,71.2 737.7,62.5 741,56 744.2,50.6 747.5,46.8 751.8,46.3 755.1,47.4 758.3,50.6 759.4,56 761.6,61.5 765.9,63.6 770.3,69 772.4,75.6 774.6,84.2 776.8,95.1 777.8,101.6 782.2,103.8 795.1,106.6 799,128.1 804.9,159.3 812.7,182.8 816.6,210.1 820.5,212 824.4,205 830.3,221.8 839.5,255.9 857.7,283.2 863.8,310.5 875.9,368.2 888,416.8 896,452 904,478 911.7,500 919.5,526 930.4,552 937,566 943,578 947,586 952,595 958.5,596.2 966,596.2 971,595.5 975.4,607.6 999.3,607.6 1006,603 1012,602.3 1023,601.8"/></g>
<g fill="none" stroke="#d40000" stroke-width="2.2" stroke-linejoin="round"><path d="M178,527.5 180.3,527.4 183.5,527.4 187.3,527.3 191.5,527.2 195.8,526.9 200,526.5 204.2,525.9 208.5,525.1 213,524.3 217.5,523.4 222.1,522.4 226.6,521.5 231.1,520.7 235.7,519.8 240.4,519 245,518.1 249.5,517.1 254,516 258.5,514.7 263.2,513.3 267.7,511.8 272.1,510.2 276,508.5 279.4,506.8 282,505.1 283.9,503.5 285.3,501.8 286.7,499.9 288.3,497.9 290.3,495.5 292.8,492.9 295.5,490 298.4,487 301.5,483.7 304.6,480.1 307.9,476.3 311.4,472 315.1,467.1 319,461.9 322.8,456.8 326.5,452 329.7,447.7 332.5,444.2 334.9,441.2 337.2,438.5 339.3,435.9 341.6,433.1 344,429.8 346.6,426.2 349.3,422.4 352,418.4 354.9,414.1 357.7,409.6 360.7,404.8 363.8,399.5 367,393.9 370.3,387.9 373.6,381.8 376.8,375.8 380,370 383.1,364.3 386.2,358.6 389.3,353 392.3,347.4 395.1,342.1 397.8,337 400.2,332.3 402.4,328 404.4,323.8 406.4,319.7 408.5,315.5 410.8,310.9 413.3,305.9 416,300.6 418.7,295.1 421.5,289.7 424.1,284.5 426.5,279.7 428.7,275.4 430.6,271.4 432.4,267.7 434.3,264 436.1,260.3 438.2,256.3 440.4,252.1 442.6,247.8 444.9,243.4 447.3,239 449.9,234.6 452.5,230.2 455.4,225.7 458.6,221.1 461.8,216.5 465.1,212.1 468.1,207.9 470.7,204.2 472.9,200.9 474.6,198 476.2,195.4 477.7,193 479.3,190.7 481.1,188.5 483.2,186.4 485.5,184.4 487.8,182.5 490.1,180.8 492.3,179.3 494.2,178.1 495.7,177.2 497,176.5 498.1,176.1 499.2,175.8 500.5,175.6 502,175.5 503.8,175.4 505.7,175.5 507.7,175.6 510,175.8 512.4,176.2 515,176.8 518,177.6 521.3,178.7 524.8,179.9 528.4,181.1 531.8,182.3 535,183.3 537.8,184.3 540.2,185.2 542.6,186.2 545,186.9 547.7,187.5 551,187.7 554.9,187.5 559.3,187 564.1,186.2 568.9,185.4 573.6,184.4 578,183.6 582.1,182.7 586.1,181.6 590,180.5 593.8,179.5 597.5,178.7 601,178.4 604.4,178.5 607.6,178.9 610.7,179.6 613.7,180.5 616.7,181.5 619.6,182.5 622.5,183.7 625.4,185.2 628.2,186.9 630.9,188.4 633.6,189.8 636.2,190.8 638.7,191.4 641,191.7 643.3,191.8 645.6,191.7 647.8,191.6 650,191.5 652.2,191.6 654.4,191.9 656.6,192.1 658.8,192.1 660.9,191.5 663,190.1 665.1,187.8 667.1,184.7 669.1,181.1 671,177.1 673,173.2 675,169.6 677,166.2 679,162.7 681,159.3 683,155.9 685,152.4 687,149 689,145.6 691,142.1 693,138.7 695,135.3 697,131.9 699,128.5 701.1,125 703.3,121.2 705.5,117.4 707.5,113.9 709.3,111 710.5,108.9"/><path d="M724,84 724.2,83.7 724.3,83.3 724.6,82.8 724.9,82.3 725.3,81.7 725.8,81 726.5,80.2 727.4,79.4 728.3,78.5 729.3,77.5 730.3,76.5 731.2,75.6 732,74.7 732.7,73.8 733.4,72.8 734.1,71.9 734.8,71 735.6,70.1 736.4,69.2 737.3,68.2 738.2,67.3 739.2,66.3 740.1,65.5 741,64.7 741.9,64 742.8,63.4 743.8,62.8 744.7,62.3 745.6,61.9 746.4,61.5 747.2,61.2 747.9,60.9 748.6,60.7 749.3,60.6 750,60.6 750.7,60.6 751.4,60.8 752.1,61 752.8,61.4 753.6,61.7 754.3,62.1 755.1,62.5 755.9,62.8 756.8,63.2 757.7,63.5 758.7,63.9 759.6,64.3 760.5,64.7 761.4,65.2 762.3,65.7 763.3,66.2 764.2,66.8 765.1,67.4 765.9,68 766.7,68.7 767.5,69.4 768.2,70.1 769,70.8 769.6,71.6 770.3,72.3 770.9,73 771.5,73.7 772,74.4 772.5,75.1 773,75.8 773.5,76.6 774,77.4 774.6,78.3 775.1,79.2 775.7,80.1 776.3,81.1 776.8,82.1 777.3,83.1 777.9,84.2 778.4,85.4 778.9,86.5 779.5,87.6 780,88.6 780.5,89.5 781.1,90.3 781.6,91.1 782.1,91.9 782.7,92.9 783.3,94 783.9,95.3 784.6,96.8 785.3,98.3 786,100 786.8,101.8 787.6,103.8 788.4,105.9 789.3,108.2 790.2,110.6 791.1,113.1 792.1,115.6 793.2,118.3 794.4,121 795.6,123.9 797,126.8 798.3,129.8 799.7,132.8 801,135.9 802.3,139 803.6,142.3 804.9,145.5 806.2,148.8 807.5,152.1 808.8,155.4 810.1,158.7 811.4,161.9 812.7,165.2 814,168.5 815.3,171.7 816.6,175 817.9,178.3 819.2,181.7 820.6,185 821.9,188.3 823.2,191.5 824.4,194.5 825.6,197 826.6,199 827.7,200.9 828.7,203.1 829.8,206 831,210 832.2,215.4 833.3,221.8 834.6,229 835.9,236.4 837.4,243.7 839.2,250.5 841.4,256.6 843.9,262.4 846.7,268.1 849.4,273.8 852.1,279.8 854.6,286.3 856.8,293.3 859,300.6 861,308.3 863,316.1 864.9,323.9 866.8,331.8 868.7,340 870.7,348.5 872.7,357.2 874.5,365.6 876.2,373.3 877.6,380 878.8,385.5 879.7,390.1 880.4,394.1 881.1,397.7 881.8,401 882.5,404.4 883.2,407.6 883.9,410.5 884.6,413.2 885.3,415.8 886.1,418.7 887,422 888,425.8 889.2,429.9 890.4,434.2 891.6,438.6 892.8,442.9 893.9,447 894.9,450.8 895.8,454.5 896.6,458.1 897.5,461.7 898.4,465.2 899.3,468.8 900.3,472.4 901.3,476 902.4,479.7 903.5,483.3 904.6,486.9 905.8,490.5 907,494.2 908.3,497.9 909.7,501.7 911,505.3 912.2,508.9 913.4,512.2 914.4,515.2 915.4,517.9 916.3,520.5 917.1,523.1 918,525.9 919,529 920,532.6 921.1,536.5 922.3,540.7 923.4,544.8 924.5,548.6 925.5,552 926.5,554.9 927.4,557.5 928.3,559.8 929.2,561.9 930.1,564 931,566 931.9,567.9 932.7,569.6 933.5,571.2 934.3,572.8 935.3,574.6 936.4,576.5 937.7,578.7 939.2,581.1 940.7,583.6 942.3,586.2 943.9,588.7 945.5,591 947,593.2 948.4,595.4 949.8,597.6 951.3,599.6 952.9,601.6 954.6,603.5 956.6,605.3 958.7,607.1 961,608.8 963.3,610.4 965.5,611.8 967.6,613.1 969.5,614.2 971.3,615 973,615.7 974.7,616.3 976.3,616.9 978,617.5 979.8,618.1 981.7,618.7 983.6,619.3 985.4,619.8 986.9,620.2 988,620.5"/></g>
<rect x="173" y="18" width="2.6" height="670" fill="#888"/>
<rect x="175.6" y="18" width="2.6" height="670" fill="#000"/>
<rect x="175.6" y="18" width="872.6" height="4.6" fill="#000"/>
<rect x="1045.8" y="18" width="2.4" height="670" fill="#000"/>
<rect x="1048.2" y="18" width="2.6" height="670" fill="#999"/>
<rect x="175.6" y="683" width="872.6" height="3.4" fill="#444"/>
<rect x="175.6" y="686.2" width="872.6" height="1.8" fill="#000"/>
<g stroke="#000" stroke-width="2.4"><line x1="256" y1="683" x2="256" y2="680"/><line x1="256" y1="22" x2="256" y2="26.5"/><line x1="332.9" y1="683" x2="332.9" y2="674"/><line x1="332.9" y1="22" x2="332.9" y2="30"/><line x1="413.4" y1="683" x2="413.4" y2="680"/><line x1="413.4" y1="22" x2="413.4" y2="26.5"/><line x1="491.6" y1="683" x2="491.6" y2="674"/><line x1="491.6" y1="22" x2="491.6" y2="30"/><line x1="571.4" y1="683" x2="571.4" y2="680"/><line x1="571.4" y1="22" x2="571.4" y2="26.5"/><line x1="651.5" y1="683" x2="651.5" y2="674"/><line x1="651.5" y1="22" x2="651.5" y2="25.5"/><line x1="729.5" y1="683" x2="729.5" y2="680"/><line x1="729.5" y1="22" x2="729.5" y2="26.5"/><line x1="809.3" y1="683" x2="809.3" y2="674"/><line x1="809.3" y1="22" x2="809.3" y2="30"/><line x1="887.3" y1="683" x2="887.3" y2="680"/><line x1="887.3" y1="22" x2="887.3" y2="26.5"/><line x1="967.2" y1="683" x2="967.2" y2="674"/><line x1="967.2" y1="22" x2="967.2" y2="30"/><line x1="178" y1="41.5" x2="189" y2="41.5"/><line x1="1046" y1="41.5" x2="1037" y2="41.5"/><line x1="178" y1="103.3" x2="183" y2="103.3"/><line x1="1046" y1="103.3" x2="1042" y2="103.3"/><line x1="178" y1="165" x2="189" y2="165"/><line x1="1046" y1="165" x2="1037" y2="165"/><line x1="178" y1="226.8" x2="183" y2="226.8"/><line x1="1046" y1="226.8" x2="1042" y2="226.8"/><line x1="178" y1="288.5" x2="189" y2="288.5"/><line x1="1046" y1="288.5" x2="1037" y2="288.5"/><line x1="178" y1="350.2" x2="183" y2="350.2"/><line x1="1046" y1="350.2" x2="1042" y2="350.2"/><line x1="178" y1="412" x2="189" y2="412"/><line x1="1046" y1="412" x2="1037" y2="412"/><line x1="178" y1="473.8" x2="183" y2="473.8"/><line x1="1046" y1="473.8" x2="1042" y2="473.8"/><line x1="178" y1="535.5" x2="189" y2="535.5"/><line x1="1046" y1="535.5" x2="1037" y2="535.5"/><line x1="178" y1="597.2" x2="183" y2="597.2"/><line x1="1046" y1="597.2" x2="1042" y2="597.2"/><line x1="178" y1="659" x2="189" y2="659"/></g>
<rect x="579.2" y="351.2" width="2.8" height="3.2" fill="#c8a890"/>
<rect x="895" y="369" width="2.4" height="4.2" fill="#b8988a"/>
<rect x="895" y="386.2" width="2.4" height="4.2" fill="#b8988a"/>
<g font-family="Liberation Sans, sans-serif" font-size="43.5" fill="#111" stroke="#fff" stroke-width="0.45" text-anchor="end">
<text x="154" y="56.9">6.50</text>
<text x="154" y="180.4">5.68</text>
<text x="154" y="303.9">4.86</text>
<text x="154" y="427.4">4.04</text>
<text x="154" y="550.9">3.22</text>
<text x="154" y="674.4">2.40</text>
</g>
<g font-family="Liberation Sans, sans-serif" font-size="43.5" fill="#111" stroke="#fff" stroke-width="0.45" text-anchor="middle">
<text x="181.2" y="738.9">240</text>
<text x="339.2" y="738.9">238</text>
<text x="497.5" y="738.9">236</text>
<text x="657.7" y="738.9">234</text>
<text x="816" y="738.9">232</text>
<text x="973.9" y="738.9">230</text>
</g>
<text transform="translate(560.5,798.9) scale(1.026,1)" font-family="Liberation Sans, sans-serif" font-size="39.5" fill="#111" stroke="#fff" stroke-width="0.2" text-anchor="middle">Binding Energy / eV</text>
<text transform="translate(37.4,349.9) rotate(-90) scale(1.075,1)" font-family="Liberation Sans, sans-serif" font-size="39.5" fill="#111" stroke="#fff" stroke-width="0.2" text-anchor="middle">Intensity / kCounts</text>
<g font-family="Liberation Serif, serif" font-size="37.4" fill="#141420" stroke="#fff" stroke-width="0.3">
<text x="372" y="147.3">Mo 6+</text>
<text x="609.6" y="85.3">Mo 6+</text>
<text x="217" y="415.8">MoO3</text>
<text x="570" y="325.8">MoO3</text>
<text x="914.5" y="382.3">Mo 5+</text>
</g>
<text x="520.5" y="902" font-family="Liberation Serif, serif" font-size="44" fill="#000" text-anchor="middle">(<tspan font-weight="bold">a</tspan>)</text>
</svg>
</body></html>
